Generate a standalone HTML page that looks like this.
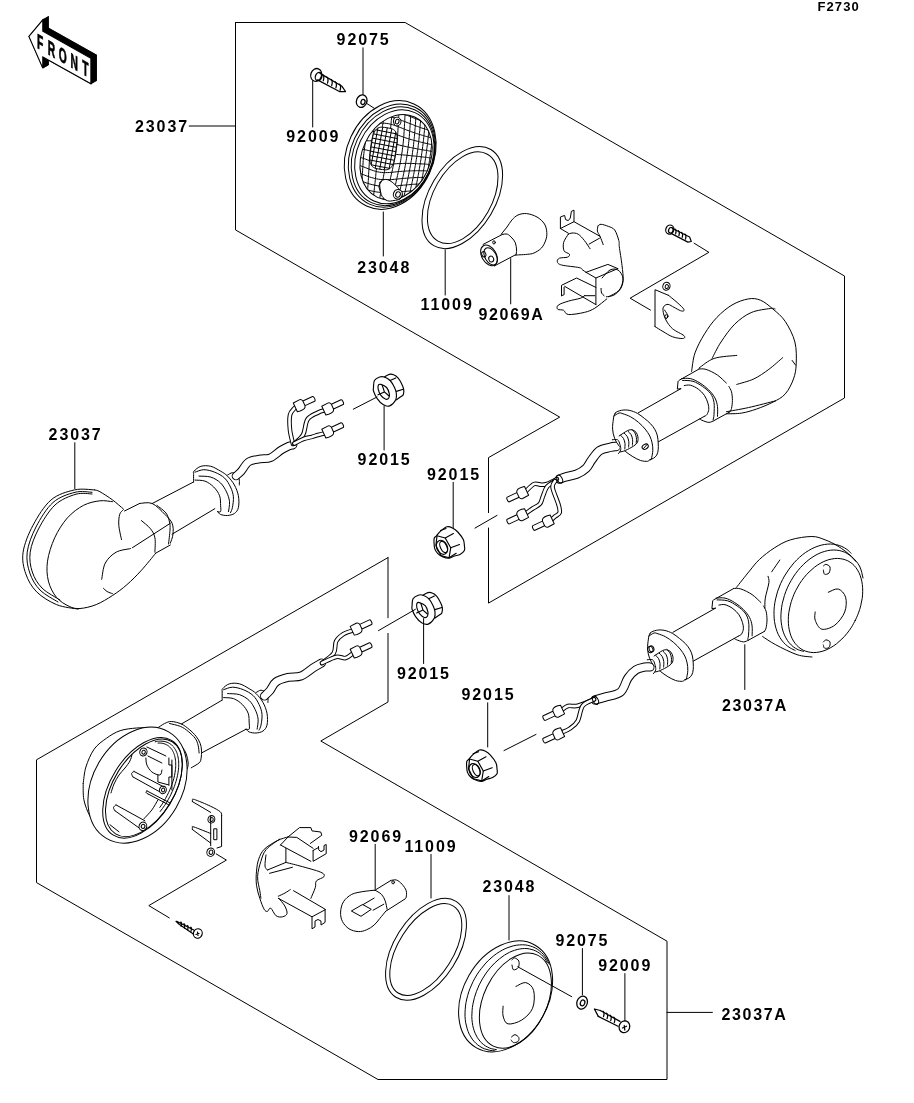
<!DOCTYPE html>
<html><head><meta charset="utf-8">
<style>
html,body{margin:0;padding:0;background:#fff;}
body{width:914px;height:1103px;overflow:hidden;}
svg{display:block;will-change:transform;}
.l{font-family:"Liberation Sans",sans-serif;font-weight:bold;font-size:16px;letter-spacing:1.9px;fill:#000;}
.la{font-family:"Liberation Sans",sans-serif;font-weight:bold;font-size:16px;letter-spacing:1.65px;fill:#000;}
.s{font-family:"Liberation Sans",sans-serif;font-weight:bold;font-size:13px;letter-spacing:1.1px;fill:#000;}
</style></head>
<body>
<svg width="914" height="1103" viewBox="0 0 914 1103">
<g fill="none" stroke="#000" stroke-width="1" stroke-linejoin="round" stroke-linecap="round">
<path d="M235.5,22.5 L405.1,22.5 L844.5,276 L844.5,398 L488.5,603.1 L488.5,528 M488.5,512.6 L488.5,457.6 L559.7,417.1 L235.5,229.9 L235.5,22.5 M388,557.6 L36.5,759.8 L36.5,882.6 L378,1079.5 L667,1079.5 L667,941.2 L320.8,741 L388,702 L388,633.4 M388,617.8 L388,557.6 M189.2,126 L235.5,126 M667,1012.4 L712.4,1012.4"/>
<path d="M363,47.8 V94.4 M312.7,80.6 V127 M366.5,103.3 L374,108.1 M383.3,212 V256 M445.2,249.8 V295 M510.7,258.6 V303.9 M74.8,442.7 V488.7 M384.1,406 V450 M353.3,409.2 L377,397 M453.2,482.4 V527.7 M475,528.1 L497,515.4 M423.6,618.6 V663.5 M378.5,630.6 L415.4,609.3 M487.7,702.8 V747 M504,750.6 L536,734.4 M744.8,644.7 V689.5 M375.2,844.3 V889 M431,854.4 V898 M509,895.6 V940 M582.4,948.5 V994.8 M624.9,973.6 V1021 M694.1,243.2 L708.9,252.3 L630.1,298.2 L650.5,310.1 M169.3,917.9 L148.8,905.6 L226.4,860.1 L216.2,853.9 "/>
</g>
<path d="M28.9,36.4 L42.8,19.8 48.4,16.6 34.5,33.2Z" fill="#000" stroke="#000" stroke-width="0.6" stroke-linejoin="round"/>
<path d="M42.8,19.8 L42.8,31.2 48.4,28 48.4,16.6Z" fill="#000" stroke="#000" stroke-width="0.6" stroke-linejoin="round"/>
<path d="M42.8,31.2 L90.9,58.2 96.5,55 48.4,28Z" fill="#000" stroke="#000" stroke-width="0.6" stroke-linejoin="round"/>
<path d="M90.9,58.2 L90.9,83.8 96.5,80.6 96.5,55Z" fill="#000" stroke="#000" stroke-width="0.6" stroke-linejoin="round"/>
<path d="M90.9,83.8 L42.8,56.9 48.4,53.7 96.5,80.6Z" fill="#000" stroke="#000" stroke-width="0.6" stroke-linejoin="round"/>
<path d="M42.8,56.9 L42.8,68.1 48.4,64.9 48.4,53.7Z" fill="#000" stroke="#000" stroke-width="0.6" stroke-linejoin="round"/>
<path d="M42.8,68.1 L28.9,36.4 34.5,33.2 48.4,64.9Z" fill="#000" stroke="#000" stroke-width="0.6" stroke-linejoin="round"/>
<path d="M34.5,33.2 L48.4,16.6 48.4,28 96.5,55 96.5,80.6 48.4,53.7 48.4,64.9Z" fill="#000" stroke="#000" stroke-width="0.6" stroke-linejoin="round"/>
<path d="M28.9,36.4 L42.8,19.8 42.8,31.2 90.9,58.2 90.9,83.8 42.8,56.9 42.8,68.1Z" fill="#fff" stroke="#000" stroke-width="1.1" stroke-linejoin="miter"/>
<text transform="translate(40.1,49.5) skewY(30) scale(0.5,1)" text-anchor="middle" style="font-family:'Liberation Sans',sans-serif;font-weight:bold;font-size:20.5px" fill="#000" stroke="#000" stroke-width="0.7">F</text>
<text transform="translate(51.5,56.1) skewY(30) scale(0.5,1)" text-anchor="middle" style="font-family:'Liberation Sans',sans-serif;font-weight:bold;font-size:20.5px" fill="#000" stroke="#000" stroke-width="0.7">R</text>
<text transform="translate(62.8,62.6) skewY(30) scale(0.5,1)" text-anchor="middle" style="font-family:'Liberation Sans',sans-serif;font-weight:bold;font-size:20.5px" fill="#000" stroke="#000" stroke-width="0.7">O</text>
<text transform="translate(74.1,69.1) skewY(30) scale(0.5,1)" text-anchor="middle" style="font-family:'Liberation Sans',sans-serif;font-weight:bold;font-size:20.5px" fill="#000" stroke="#000" stroke-width="0.7">N</text>
<text transform="translate(85.4,75.6) skewY(30) scale(0.5,1)" text-anchor="middle" style="font-family:'Liberation Sans',sans-serif;font-weight:bold;font-size:20.5px" fill="#000" stroke="#000" stroke-width="0.7">T</text>
<defs><clipPath id="mc1"><ellipse cx="396.1" cy="157.15" rx="34.1" ry="44.3" transform="rotate(24.9 396.1 157.15)"/></clipPath></defs>
<defs><clipPath id="pit1"><path d="M395.9,150.2 L395.2,155 394.8,157.3 394.5,159 394.2,160.4 393.8,161.7 393.5,162.8 393.1,163.8 392.7,164.8 392.3,165.6 391.9,166.3 391.4,167 390.9,167.6 390.4,168.1 389.9,168.5 389.3,168.9 388.6,169.2 387.9,169.5 387.1,169.6 386.3,169.8 385.3,169.8 384.2,169.7 382.5,169.6 378.6,169 377,168.7 375.9,168.5 375,168.2 374.2,167.8 373.5,167.4 372.9,167 372.3,166.5 371.9,166 371.5,165.4 371.1,164.8 370.8,164.1 370.5,163.3 370.3,162.5 370.1,161.6 370,160.6 369.9,159.5 369.9,158.3 369.9,157 370,155.5 370.2,153.8 370.5,151.6 371.1,146.8 371.8,142 372.2,139.7 372.5,138 372.8,136.6 373.2,135.3 373.5,134.2 373.9,133.2 374.3,132.2 374.7,131.4 375.1,130.7 375.6,130 376.1,129.4 376.6,128.9 377.1,128.5 377.7,128.1 378.4,127.8 379.1,127.5 379.9,127.4 380.7,127.2 381.7,127.2 382.8,127.3 384.5,127.4 388.4,128 390,128.3 391.1,128.5 392,128.8 392.8,129.2 393.5,129.6 394.1,130 394.7,130.5 395.1,131 395.5,131.6 395.9,132.2 396.2,132.9 396.5,133.7 396.7,134.5 396.9,135.4 397,136.4 397.1,137.5 397.1,138.7 397.1,140 397,141.5 396.8,143.2 396.5,145.4Z"/></clipPath></defs>
<g fill="none" stroke="#000" stroke-width="1" stroke-linejoin="round" stroke-linecap="round">
<g stroke-width="1.25">
<ellipse cx="316.2" cy="74.9" rx="5.4" ry="6.5" transform="rotate(20 316.2 74.9)"/>
<ellipse cx="318.6" cy="76.6" rx="3.2" ry="4.2" transform="rotate(20 318.6 76.6)"/>
<path d="M320.1,73.4 L342,86.3 345.5,91.5 339.4,91.5 317.5,79.9"/>
<path d="M322.5,74.5 q2.2,1.5 0.8,6.2"/>
<path d="M326.7,76.9 q2.2,1.5 0.8,6.2"/>
<path d="M330.9,79.3 q2.2,1.5 0.8,6.2"/>
<path d="M335.1,81.7 q2.2,1.5 0.8,6.2"/>
<path d="M339.3,84.1 q2.2,1.5 0.8,6.2"/>
<ellipse cx="361.7" cy="101.1" rx="5.2" ry="6.4" transform="rotate(20 361.7 101.1)"/>
<ellipse cx="363" cy="102" rx="2" ry="2.6" transform="rotate(20 363 102)"/>
</g>
<ellipse cx="390.2" cy="155" rx="43.3" ry="56.3" transform="rotate(24.9 390.2 155)"/>
<ellipse cx="391.9" cy="155.6" rx="41.1" ry="53.5" transform="rotate(24.9 391.9 155.6)"/>
<ellipse cx="393" cy="156.2" rx="39.4" ry="51.2" transform="rotate(24.9 393 156.2)"/>
<ellipse cx="394.4" cy="156.8" rx="37.5" ry="48.7" transform="rotate(24.9 394.4 156.8)"/>
<ellipse cx="396.1" cy="157.2" rx="34.1" ry="44.3" transform="rotate(24.9 396.1 157.2)"/>
<g clip-path="url(#mc1)" stroke-width="1"><path d="M351.5,67.3 L351.2,68.4 351,69.5 350.7,70.6 350.5,71.6 350.2,72.7 350,73.9 349.7,75 349.5,76.1 349.2,77.2 348.9,78.3 348.7,79.5 348.4,80.6 348.2,81.7 347.9,82.9 347.7,84 347.4,85.2 347.1,86.4 346.9,87.5 346.6,88.7 346.4,89.9 346.1,91.1 345.8,92.3 345.6,93.5 345.3,94.7 345.1,95.9 344.8,97.1 344.5,98.4 344.3,99.6 344,100.8 343.8,102.1 343.5,103.4 343.2,104.6 343,105.9 342.7,107.1 342.5,108.4 342.2,109.7 342,111 341.7,112.3 341.5,113.6 341.2,114.9 341,116.2 340.7,117.5 340.5,118.9 340.2,120.2 340,121.5 339.8,122.9 339.5,124.2 339.3,125.5 339.1,126.9 338.8,128.2 338.6,129.6 338.4,131 338.2,132.3 338,133.7 337.7,135.1 337.5,136.4 337.3,137.8 337.1,139.2 336.9,140.6 336.7,141.9 336.5,143.3 336.4,144.7 336.2,146.1 336,147.4 335.8,148.8 335.6,150.2 335.5,151.6 335.3,152.9 335.1,154.3 335,155.7 334.8,157 334.7,158.4 334.5,159.7 334.4,161.1 334.2,162.4 334.1,163.8 334,165.1 333.8,166.5 333.7,167.8 333.6,169.1 333.5,170.5 333.4,171.8 333.2,173.1 333.1,174.4 333,175.7 332.9,177 332.8,178.3 332.7,179.6 332.6,180.9 332.5,182.2 332.4,183.4 332.3,184.7 332.2,185.9 332.1,187.2 332.1,188.4 332,189.7 331.9,190.9 331.8,192.2 331.7,193.4 331.7,194.6 331.6,195.8 331.5,197 331.4,198.2 331.4,199.4 331.3,200.6 331.2,201.8 331.1,202.9 331.1,204.1 331,205.3 330.9,206.4 330.9,207.6 330.8,208.7 330.7,209.9 330.7,211 330.6,212.1 330.6,213.3 330.5,214.4 330.4,215.5 330.4,216.6 330.3,217.7 M356.1,66.9 L355.8,68 355.6,69 355.3,70.1 355.1,71.2 354.8,72.3 354.6,73.4 354.3,74.5 354.1,75.6 353.8,76.7 353.6,77.9 353.3,79 353.1,80.1 352.8,81.3 352.5,82.4 352.3,83.6 352,84.7 351.7,85.9 351.5,87.1 351.2,88.3 351,89.5 350.7,90.7 350.4,91.9 350.1,93.1 349.9,94.3 349.6,95.5 349.3,96.7 349.1,98 348.8,99.2 348.5,100.5 348.3,101.7 348,103 347.7,104.3 347.5,105.6 347.2,106.9 346.9,108.2 346.7,109.5 346.4,110.8 346.1,112.1 345.9,113.4 345.6,114.8 345.4,116.1 345.1,117.4 344.8,118.8 344.6,120.2 344.3,121.5 344.1,122.9 343.8,124.3 343.6,125.6 343.4,127 343.1,128.4 342.9,129.8 342.6,131.2 342.4,132.6 342.2,134 342,135.4 341.8,136.8 341.5,138.3 341.3,139.7 341.1,141.1 340.9,142.5 340.7,143.9 340.5,145.4 340.3,146.8 340.2,148.2 340,149.6 339.8,151 339.6,152.4 339.5,153.9 339.3,155.3 339.1,156.7 339,158.1 338.8,159.5 338.7,160.9 338.6,162.3 338.4,163.6 338.3,165 338.1,166.4 338,167.8 337.9,169.1 337.8,170.5 337.7,171.8 337.5,173.2 337.4,174.5 337.3,175.9 337.2,177.2 337.1,178.5 337,179.8 336.9,181.1 336.8,182.4 336.7,183.7 336.7,185 336.6,186.3 336.5,187.6 336.4,188.8 336.3,190.1 336.2,191.3 336.2,192.6 336.1,193.8 336,195.1 335.9,196.3 335.9,197.5 335.8,198.7 335.7,199.9 335.7,201.1 335.6,202.3 335.5,203.5 335.5,204.7 335.4,205.8 335.3,207 335.3,208.1 335.2,209.3 335.1,210.4 335.1,211.6 335,212.7 335,213.8 334.9,215 334.8,216.1 334.8,217.2 334.7,218.3 334.7,219.4 M360.9,66.5 L360.6,67.6 360.4,68.6 360.1,69.7 359.9,70.8 359.6,71.9 359.4,73 359.1,74.1 358.9,75.2 358.6,76.3 358.4,77.4 358.1,78.5 357.8,79.7 357.6,80.8 357.3,82 357.1,83.1 356.8,84.3 356.5,85.4 356.3,86.6 356,87.8 355.7,89 355.5,90.2 355.2,91.4 354.9,92.6 354.6,93.8 354.4,95.1 354.1,96.3 353.8,97.5 353.5,98.8 353.2,100.1 353,101.3 352.7,102.6 352.4,103.9 352.1,105.2 351.9,106.5 351.6,107.8 351.3,109.1 351,110.5 350.7,111.8 350.5,113.2 350.2,114.5 349.9,115.9 349.6,117.3 349.4,118.7 349.1,120 348.8,121.4 348.6,122.8 348.3,124.3 348.1,125.7 347.8,127.1 347.6,128.5 347.3,130 347.1,131.4 346.8,132.9 346.6,134.3 346.4,135.8 346.1,137.3 345.9,138.7 345.7,140.2 345.5,141.7 345.3,143.1 345.1,144.6 344.9,146.1 344.7,147.5 344.5,149 344.3,150.5 344.1,151.9 343.9,153.4 343.8,154.9 343.6,156.3 343.4,157.8 343.3,159.2 343.1,160.7 343,162.1 342.9,163.5 342.7,165 342.6,166.4 342.5,167.8 342.4,169.2 342.2,170.6 342.1,172 342,173.4 341.9,174.7 341.8,176.1 341.7,177.5 341.6,178.8 341.5,180.1 341.4,181.5 341.3,182.8 341.2,184.1 341.2,185.4 341.1,186.7 341,188 340.9,189.3 340.8,190.6 340.8,191.8 340.7,193.1 340.6,194.3 340.5,195.6 340.5,196.8 340.4,198 340.3,199.3 340.3,200.5 340.2,201.7 340.1,202.9 340.1,204.1 340,205.2 339.9,206.4 339.9,207.6 339.8,208.7 339.7,209.9 339.7,211 339.6,212.2 339.6,213.3 339.5,214.4 339.4,215.6 339.4,216.7 339.3,217.8 339.3,218.9 339.2,220 339.1,221.1 M365.8,66.2 L365.6,67.2 365.3,68.3 365.1,69.4 364.8,70.4 364.6,71.5 364.3,72.6 364.1,73.7 363.8,74.8 363.6,75.9 363.3,77 363.1,78.1 362.8,79.2 362.6,80.4 362.3,81.5 362,82.7 361.8,83.8 361.5,85 361.2,86.2 361,87.3 360.7,88.5 360.4,89.7 360.2,90.9 359.9,92.1 359.6,93.3 359.3,94.6 359,95.8 358.8,97.1 358.5,98.3 358.2,99.6 357.9,100.9 357.6,102.1 357.3,103.4 357,104.8 356.7,106.1 356.5,107.4 356.2,108.7 355.9,110.1 355.6,111.4 355.3,112.8 355,114.2 354.7,115.6 354.4,117 354.1,118.4 353.9,119.8 353.6,121.3 353.3,122.7 353,124.2 352.7,125.6 352.5,127.1 352.2,128.6 351.9,130.1 351.7,131.6 351.4,133.1 351.2,134.6 350.9,136.1 350.7,137.6 350.4,139.2 350.2,140.7 350,142.2 349.8,143.8 349.5,145.3 349.3,146.8 349.1,148.4 348.9,149.9 348.8,151.4 348.6,152.9 348.4,154.5 348.2,156 348.1,157.5 347.9,159 347.8,160.5 347.6,162 347.5,163.5 347.4,165 347.2,166.4 347.1,167.9 347,169.3 346.9,170.8 346.8,172.2 346.7,173.6 346.5,175 346.4,176.4 346.4,177.8 346.3,179.2 346.2,180.6 346.1,181.9 346,183.3 345.9,184.6 345.8,185.9 345.8,187.2 345.7,188.5 345.6,189.8 345.5,191.1 345.5,192.4 345.4,193.7 345.3,194.9 345.3,196.2 345.2,197.4 345.1,198.7 345.1,199.9 345,201.1 344.9,202.3 344.9,203.5 344.8,204.7 344.7,205.9 344.7,207 344.6,208.2 344.5,209.4 344.5,210.5 344.4,211.7 344.3,212.8 344.3,213.9 344.2,215.1 344.2,216.2 344.1,217.3 344,218.4 344,219.5 343.9,220.6 343.8,221.7 343.8,222.8 M370.9,65.9 L370.6,67 370.4,68 370.2,69.1 369.9,70.1 369.7,71.2 369.5,72.3 369.2,73.4 369,74.5 368.7,75.6 368.5,76.7 368.2,77.8 368,78.9 367.7,80 367.5,81.1 367.2,82.3 367,83.4 366.7,84.6 366.4,85.7 366.2,86.9 365.9,88.1 365.6,89.2 365.4,90.4 365.1,91.6 364.8,92.9 364.5,94.1 364.2,95.3 364,96.6 363.7,97.8 363.4,99.1 363.1,100.4 362.8,101.6 362.5,102.9 362.2,104.2 361.9,105.6 361.6,106.9 361.3,108.3 361,109.6 360.7,111 360.4,112.4 360.1,113.8 359.8,115.2 359.5,116.6 359.2,118.1 358.9,119.5 358.6,121 358.3,122.5 358,124 357.7,125.5 357.4,127 357.1,128.6 356.8,130.1 356.5,131.7 356.2,133.2 356,134.8 355.7,136.4 355.4,138 355.2,139.6 354.9,141.2 354.7,142.8 354.5,144.4 354.3,146 354,147.6 353.8,149.3 353.6,150.9 353.4,152.5 353.3,154.1 353.1,155.7 352.9,157.2 352.8,158.8 352.6,160.4 352.5,161.9 352.3,163.5 352.2,165 352.1,166.6 352,168.1 351.8,169.6 351.7,171 351.6,172.5 351.5,174 351.4,175.4 351.3,176.9 351.2,178.3 351.2,179.7 351.1,181.1 351,182.5 350.9,183.8 350.8,185.2 350.8,186.5 350.7,187.8 350.6,189.2 350.5,190.5 350.5,191.8 350.4,193 350.3,194.3 350.3,195.6 350.2,196.8 350.1,198.1 350.1,199.3 350,200.5 349.9,201.7 349.9,203 349.8,204.1 349.7,205.3 349.7,206.5 349.6,207.7 349.5,208.8 349.5,210 349.4,211.2 349.3,212.3 349.3,213.4 349.2,214.6 349.1,215.7 349.1,216.8 349,217.9 348.9,219 348.9,220.1 348.8,221.2 348.7,222.3 348.7,223.3 348.6,224.4 M376.1,65.8 L375.9,66.8 375.6,67.9 375.4,68.9 375.2,70 375,71 374.7,72.1 374.5,73.2 374.3,74.3 374.1,75.3 373.8,76.4 373.6,77.5 373.4,78.6 373.1,79.7 372.9,80.8 372.6,82 372.4,83.1 372.1,84.2 371.9,85.4 371.6,86.5 371.4,87.7 371.1,88.9 370.8,90 370.6,91.2 370.3,92.4 370,93.6 369.7,94.9 369.5,96.1 369.2,97.3 368.9,98.6 368.6,99.9 368.3,101.1 368,102.4 367.7,103.7 367.4,105 367.1,106.4 366.8,107.7 366.5,109.1 366.2,110.5 365.9,111.8 365.6,113.3 365.2,114.7 364.9,116.1 364.6,117.6 364.3,119.1 363.9,120.6 363.6,122.1 363.3,123.6 363,125.2 362.6,126.8 362.3,128.4 362,130 361.7,131.6 361.4,133.3 361.1,134.9 360.8,136.6 360.5,138.3 360.2,140 360,141.7 359.7,143.4 359.5,145.1 359.2,146.8 359,148.6 358.8,150.3 358.6,152 358.4,153.7 358.2,155.4 358,157.1 357.9,158.7 357.7,160.4 357.6,162 357.5,163.6 357.3,165.2 357.2,166.8 357.1,168.4 357,169.9 356.9,171.5 356.8,173 356.7,174.5 356.6,176 356.5,177.4 356.4,178.9 356.4,180.3 356.3,181.7 356.2,183.1 356.1,184.5 356.1,185.8 356,187.2 355.9,188.5 355.8,189.9 355.8,191.2 355.7,192.5 355.6,193.7 355.6,195 355.5,196.3 355.4,197.5 355.4,198.8 355.3,200 355.2,201.2 355.1,202.4 355.1,203.6 355,204.8 354.9,206 354.9,207.1 354.8,208.3 354.7,209.5 354.6,210.6 354.6,211.7 354.5,212.9 354.4,214 354.3,215.1 354.3,216.2 354.2,217.3 354.1,218.4 354,219.5 354,220.6 353.9,221.7 353.8,222.8 353.7,223.8 353.6,224.9 353.6,226 M381.4,65.9 L381.2,66.9 381,67.9 380.8,69 380.6,70 380.4,71 380.2,72.1 380,73.2 379.8,74.2 379.5,75.3 379.3,76.4 379.1,77.5 378.9,78.5 378.7,79.6 378.4,80.7 378.2,81.8 378,83 377.8,84.1 377.5,85.2 377.3,86.3 377,87.5 376.8,88.6 376.6,89.8 376.3,91 376.1,92.2 375.8,93.3 375.5,94.5 375.3,95.8 375,97 374.7,98.2 374.5,99.5 374.2,100.7 373.9,102 373.6,103.3 373.3,104.6 373,105.9 372.7,107.2 372.4,108.6 372.1,109.9 371.8,111.3 371.5,112.7 371.1,114.1 370.8,115.6 370.5,117 370.1,118.5 369.8,120 369.5,121.6 369.1,123.1 368.8,124.7 368.4,126.3 368,128 367.7,129.7 367.3,131.4 367,133.1 366.7,134.9 366.3,136.7 366,138.5 365.7,140.3 365.4,142.2 365.1,144 364.8,145.9 364.6,147.7 364.3,149.6 364.1,151.5 363.9,153.3 363.7,155.1 363.5,157 363.4,158.7 363.2,160.5 363.1,162.2 363,164 362.9,165.6 362.8,167.3 362.7,168.9 362.6,170.5 362.5,172.1 362.4,173.6 362.3,175.2 362.2,176.7 362.2,178.1 362.1,179.6 362,181 361.9,182.5 361.8,183.8 361.8,185.2 361.7,186.6 361.6,187.9 361.5,189.3 361.5,190.6 361.4,191.9 361.3,193.2 361.2,194.4 361.1,195.7 361.1,196.9 361,198.2 360.9,199.4 360.8,200.6 360.7,201.8 360.7,203 360.6,204.2 360.5,205.4 360.4,206.5 360.3,207.7 360.2,208.8 360.1,210 360.1,211.1 360,212.2 359.9,213.4 359.8,214.5 359.7,215.6 359.6,216.7 359.5,217.8 359.4,218.9 359.3,219.9 359.2,221 359.2,222.1 359.1,223.2 359,224.2 358.9,225.3 358.8,226.3 358.7,227.4 M386.8,66.1 L386.6,67.1 386.4,68.2 386.3,69.2 386.1,70.2 385.9,71.3 385.7,72.3 385.5,73.4 385.3,74.4 385.1,75.5 385,76.6 384.8,77.6 384.6,78.7 384.4,79.8 384.2,80.9 384,82 383.8,83.1 383.6,84.2 383.4,85.3 383.1,86.4 382.9,87.6 382.7,88.7 382.5,89.8 382.3,91 382.1,92.2 381.8,93.3 381.6,94.5 381.4,95.7 381.1,96.9 380.9,98.1 380.7,99.3 380.4,100.6 380.2,101.8 379.9,103.1 379.6,104.3 379.4,105.6 379.1,106.9 378.8,108.2 378.5,109.6 378.3,110.9 378,112.3 377.7,113.7 377.3,115.1 377,116.5 376.7,118 376.4,119.4 376,121 375.7,122.5 375.3,124.1 374.9,125.7 374.5,127.4 374.2,129.1 373.8,130.8 373.4,132.7 373,134.5 372.6,136.4 372.2,138.4 371.8,140.4 371.4,142.5 371.1,144.6 370.8,146.7 370.5,148.8 370.2,150.9 370,153 369.8,155.1 369.7,157.1 369.5,159 369.4,160.9 369.3,162.8 369.2,164.6 369.1,166.3 369,168 368.9,169.7 368.8,171.3 368.7,172.9 368.6,174.5 368.5,176 368.5,177.5 368.4,178.9 368.3,180.4 368.2,181.8 368.1,183.2 368,184.6 367.9,185.9 367.8,187.3 367.7,188.6 367.6,189.9 367.5,191.2 367.4,192.5 367.3,193.7 367.2,195 367.1,196.2 367,197.5 366.9,198.7 366.8,199.9 366.7,201.1 366.6,202.3 366.5,203.4 366.4,204.6 366.3,205.8 366.2,206.9 366.1,208.1 365.9,209.2 365.8,210.3 365.7,211.5 365.6,212.6 365.5,213.7 365.4,214.8 365.3,215.9 365.2,217 365.1,218.1 365,219.1 364.8,220.2 364.7,221.3 364.6,222.3 364.5,223.4 364.4,224.4 364.3,225.5 364.2,226.5 364.1,227.6 364,228.6 M392.2,66.6 L392.1,67.6 391.9,68.7 391.8,69.7 391.6,70.7 391.5,71.8 391.3,72.8 391.1,73.9 391,74.9 390.8,76 390.6,77 390.5,78.1 390.3,79.2 390.1,80.3 390,81.3 389.8,82.4 389.6,83.5 389.5,84.6 389.3,85.7 389.1,86.9 388.9,88 388.8,89.1 388.6,90.3 388.4,91.4 388.2,92.6 388,93.7 387.8,94.9 387.7,96.1 387.5,97.2 387.3,98.4 387.1,99.6 386.9,100.9 386.7,102.1 386.5,103.3 386.3,104.6 386.1,105.8 385.8,107.1 385.6,108.4 385.4,109.7 385.2,111 384.9,112.4 384.7,113.7 384.5,115.1 384.2,116.5 384,117.9 383.7,119.3 383.4,120.8 383.2,122.3 382.9,123.8 382.6,125.3 382.3,126.9 381.9,128.6 381.6,130.3 381.2,132 380.8,133.8 380.4,135.8 379.9,137.8 379.4,140 378.9,142.4 378.4,145 377.9,147.7 377.6,150.5 377.4,153.1 377.2,155.6 377.1,157.8 377,159.9 376.9,161.9 376.7,163.7 376.6,165.5 376.5,167.2 376.4,168.9 376.2,170.5 376.1,172.1 375.9,173.6 375.8,175.1 375.7,176.6 375.5,178.1 375.4,179.5 375.2,180.9 375.1,182.3 374.9,183.6 374.8,185 374.6,186.3 374.5,187.6 374.3,188.9 374.2,190.2 374.1,191.5 373.9,192.7 373.8,194 373.6,195.2 373.5,196.4 373.3,197.7 373.2,198.9 373,200.1 372.9,201.2 372.8,202.4 372.6,203.6 372.5,204.7 372.3,205.9 372.2,207 372,208.2 371.9,209.3 371.8,210.4 371.6,211.5 371.5,212.6 371.4,213.7 371.2,214.8 371.1,215.9 370.9,217 370.8,218.1 370.7,219.2 370.5,220.2 370.4,221.3 370.3,222.3 370.1,223.4 370,224.4 369.9,225.5 369.7,226.5 369.6,227.6 369.5,228.6 369.3,229.6 M397.7,67.4 L397.5,68.4 397.4,69.4 397.3,70.5 397.1,71.5 397,72.6 396.9,73.6 396.7,74.7 396.6,75.7 396.5,76.8 396.3,77.8 396.2,78.9 396.1,80 395.9,81.1 395.8,82.2 395.6,83.3 395.5,84.4 395.4,85.5 395.2,86.6 395.1,87.7 395,88.8 394.8,90 394.7,91.1 394.5,92.3 394.4,93.4 394.2,94.6 394.1,95.8 394,96.9 393.8,98.1 393.7,99.3 393.5,100.6 393.4,101.8 393.2,103 393.1,104.3 392.9,105.5 392.8,106.8 392.7,108.1 392.5,109.4 392.4,110.7 392.2,112 392.1,113.4 391.9,114.7 391.8,116.1 391.6,117.5 391.5,118.9 391.3,120.4 391.2,121.9 391.1,123.4 390.9,124.9 390.8,126.5 390.6,128.1 390.5,129.8 390.4,131.5 390.3,133.3 390.1,135.1 390,137.1 389.9,139.2 389.8,141.4 389.6,143.9 389.4,146.5 389.1,149.3 388.6,152 388.1,154.6 387.6,157 387.1,159.2 386.6,161.2 386.2,163.2 385.8,165 385.4,166.7 385.1,168.4 384.7,170.1 384.4,171.7 384.1,173.2 383.8,174.7 383.6,176.2 383.3,177.7 383,179.1 382.8,180.5 382.5,181.9 382.3,183.3 382.1,184.6 381.8,186 381.6,187.3 381.4,188.6 381.2,189.9 380.9,191.2 380.7,192.4 380.5,193.7 380.3,194.9 380.1,196.1 379.9,197.4 379.7,198.6 379.5,199.8 379.3,200.9 379.2,202.1 379,203.3 378.8,204.4 378.6,205.6 378.4,206.7 378.2,207.9 378.1,209 377.9,210.1 377.7,211.3 377.5,212.4 377.4,213.5 377.2,214.6 377,215.7 376.9,216.7 376.7,217.8 376.5,218.9 376.4,220 376.2,221 376,222.1 375.9,223.1 375.7,224.2 375.5,225.2 375.4,226.3 375.2,227.3 375.1,228.3 374.9,229.4 374.8,230.4 M403,68.4 L402.9,69.4 402.8,70.5 402.7,71.5 402.6,72.6 402.5,73.6 402.4,74.7 402.3,75.7 402.2,76.8 402,77.9 401.9,78.9 401.8,80 401.7,81.1 401.6,82.2 401.5,83.3 401.4,84.4 401.3,85.5 401.2,86.7 401.1,87.8 400.9,88.9 400.8,90.1 400.7,91.2 400.6,92.4 400.5,93.6 400.4,94.7 400.3,95.9 400.2,97.1 400.1,98.3 400,99.5 399.9,100.8 399.8,102 399.7,103.3 399.6,104.5 399.5,105.8 399.4,107.1 399.3,108.4 399.2,109.7 399.1,111.1 399,112.4 398.9,113.8 398.8,115.2 398.7,116.6 398.6,118.1 398.5,119.5 398.5,121 398.4,122.5 398.3,124.1 398.2,125.7 398.1,127.3 398,129 397.9,130.7 397.8,132.4 397.7,134.2 397.6,136.1 397.5,138 397.3,139.9 397.2,141.9 397,144 396.8,146.1 396.5,148.2 396.2,150.3 395.9,152.4 395.6,154.5 395.2,156.6 394.8,158.6 394.4,160.6 394,162.5 393.6,164.3 393.2,166.2 392.8,167.9 392.5,169.6 392.1,171.3 391.7,172.9 391.3,174.5 391,176 390.6,177.6 390.3,179 390,180.5 389.7,181.9 389.3,183.3 389,184.7 388.7,186.1 388.5,187.4 388.2,188.8 387.9,190.1 387.6,191.4 387.4,192.7 387.1,193.9 386.8,195.2 386.6,196.4 386.3,197.7 386.1,198.9 385.9,200.1 385.6,201.3 385.4,202.5 385.2,203.7 384.9,204.8 384.7,206 384.5,207.2 384.3,208.3 384.1,209.4 383.9,210.6 383.6,211.7 383.4,212.8 383.2,213.9 383,215 382.8,216.1 382.6,217.2 382.4,218.3 382.2,219.4 382,220.4 381.9,221.5 381.7,222.6 381.5,223.6 381.3,224.7 381.1,225.7 380.9,226.8 380.7,227.8 380.6,228.8 380.4,229.9 380.2,230.9 M408.3,69.6 L408.2,70.7 408.1,71.7 408,72.8 407.9,73.8 407.8,74.9 407.8,76 407.7,77.1 407.6,78.1 407.5,79.2 407.4,80.3 407.3,81.4 407.2,82.5 407.1,83.6 407,84.8 406.9,85.9 406.9,87 406.8,88.2 406.7,89.3 406.6,90.5 406.5,91.6 406.4,92.8 406.3,94 406.3,95.2 406.2,96.4 406.1,97.6 406,98.8 405.9,100.1 405.9,101.3 405.8,102.6 405.7,103.8 405.6,105.1 405.5,106.4 405.5,107.7 405.4,109.1 405.3,110.4 405.2,111.8 405.2,113.2 405.1,114.5 405,116 404.9,117.4 404.8,118.9 404.8,120.3 404.7,121.8 404.6,123.4 404.5,124.9 404.4,126.5 404.3,128.1 404.2,129.7 404.1,131.4 404,133 403.9,134.8 403.8,136.5 403.6,138.3 403.5,140 403.3,141.9 403.1,143.7 402.9,145.5 402.7,147.4 402.4,149.3 402.2,151.1 401.9,153 401.6,154.8 401.3,156.7 401,158.5 400.7,160.3 400.3,162.1 400,163.9 399.7,165.6 399.3,167.3 399,169 398.6,170.7 398.2,172.3 397.9,173.9 397.5,175.4 397.2,177 396.9,178.5 396.5,180 396.2,181.4 395.9,182.9 395.5,184.3 395.2,185.7 394.9,187.1 394.6,188.4 394.3,189.8 394,191.1 393.7,192.4 393.4,193.7 393.1,195 392.8,196.3 392.5,197.5 392.3,198.8 392,200 391.7,201.2 391.5,202.5 391.2,203.7 390.9,204.8 390.7,206 390.4,207.2 390.2,208.4 390,209.5 389.7,210.7 389.5,211.8 389.2,212.9 389,214 388.8,215.2 388.6,216.3 388.3,217.4 388.1,218.5 387.9,219.5 387.7,220.6 387.5,221.7 387.2,222.8 387,223.8 386.8,224.9 386.6,226 386.4,227 386.2,228 386,229.1 385.8,230.1 385.6,231.1 M413.4,71 L413.4,72.1 413.3,73.2 413.2,74.2 413.1,75.3 413,76.4 413,77.5 412.9,78.6 412.8,79.7 412.7,80.8 412.7,81.9 412.6,83 412.5,84.1 412.4,85.3 412.4,86.4 412.3,87.5 412.2,88.7 412.1,89.9 412.1,91 412,92.2 411.9,93.4 411.9,94.6 411.8,95.8 411.7,97 411.6,98.2 411.6,99.5 411.5,100.7 411.4,102 411.4,103.3 411.3,104.5 411.2,105.8 411.2,107.1 411.1,108.5 411,109.8 410.9,111.2 410.9,112.5 410.8,113.9 410.7,115.3 410.6,116.7 410.6,118.1 410.5,119.6 410.4,121 410.3,122.5 410.2,124 410.1,125.5 410,127.1 409.9,128.6 409.8,130.2 409.7,131.8 409.5,133.4 409.4,135 409.3,136.6 409.1,138.3 409,139.9 408.8,141.6 408.6,143.3 408.4,145 408.2,146.7 408,148.4 407.8,150.2 407.5,151.9 407.3,153.6 407,155.3 406.8,157 406.5,158.7 406.2,160.4 405.9,162.1 405.6,163.7 405.3,165.4 405,167 404.7,168.6 404.4,170.2 404,171.8 403.7,173.4 403.4,174.9 403.1,176.4 402.7,177.9 402.4,179.4 402.1,180.9 401.8,182.3 401.4,183.7 401.1,185.2 400.8,186.5 400.5,187.9 400.2,189.3 399.9,190.6 399.6,192 399.3,193.3 399,194.6 398.7,195.9 398.4,197.1 398.1,198.4 397.8,199.7 397.5,200.9 397.3,202.1 397,203.4 396.7,204.6 396.4,205.8 396.2,207 395.9,208.1 395.6,209.3 395.4,210.5 395.1,211.6 394.9,212.8 394.6,213.9 394.4,215 394.1,216.2 393.9,217.3 393.6,218.4 393.4,219.5 393.2,220.6 392.9,221.7 392.7,222.7 392.5,223.8 392.3,224.9 392,226 391.8,227 391.6,228.1 391.4,229.1 391.1,230.2 390.9,231.2 M418.4,72.6 L418.3,73.7 418.3,74.7 418.2,75.8 418.1,76.9 418.1,78 418,79.1 417.9,80.2 417.9,81.3 417.8,82.4 417.7,83.6 417.7,84.7 417.6,85.8 417.5,87 417.5,88.2 417.4,89.3 417.3,90.5 417.3,91.7 417.2,92.9 417.1,94 417.1,95.3 417,96.5 416.9,97.7 416.9,98.9 416.8,100.2 416.7,101.4 416.7,102.7 416.6,104 416.5,105.2 416.5,106.5 416.4,107.8 416.3,109.2 416.2,110.5 416.2,111.8 416.1,113.2 416,114.5 415.9,115.9 415.8,117.3 415.8,118.7 415.7,120.1 415.6,121.6 415.5,123 415.4,124.5 415.3,126 415.2,127.4 415,128.9 414.9,130.4 414.8,132 414.7,133.5 414.5,135.1 414.4,136.6 414.2,138.2 414.1,139.8 413.9,141.3 413.7,142.9 413.6,144.5 413.4,146.1 413.2,147.7 413,149.4 412.7,151 412.5,152.6 412.3,154.2 412.1,155.8 411.8,157.4 411.6,159 411.3,160.6 411,162.2 410.8,163.8 410.5,165.3 410.2,166.9 409.9,168.4 409.6,170 409.3,171.5 409,173 408.7,174.5 408.4,176 408.1,177.5 407.8,178.9 407.5,180.4 407.2,181.8 406.9,183.2 406.6,184.6 406.3,186 406,187.4 405.7,188.7 405.4,190.1 405.1,191.4 404.8,192.8 404.5,194.1 404.2,195.4 403.9,196.6 403.6,197.9 403.3,199.2 403,200.4 402.8,201.7 402.5,202.9 402.2,204.1 401.9,205.4 401.6,206.6 401.4,207.8 401.1,208.9 400.8,210.1 400.6,211.3 400.3,212.4 400,213.6 399.8,214.7 399.5,215.9 399.3,217 399,218.1 398.8,219.2 398.5,220.3 398.3,221.4 398,222.5 397.8,223.6 397.5,224.7 397.3,225.8 397.1,226.9 396.8,227.9 396.6,229 396.4,230 396.1,231.1 M423.2,74.2 L423.2,75.3 423.1,76.4 423,77.5 423,78.6 422.9,79.7 422.8,80.8 422.8,81.9 422.7,83.1 422.7,84.2 422.6,85.3 422.5,86.5 422.5,87.6 422.4,88.8 422.3,90 422.3,91.1 422.2,92.3 422.1,93.5 422.1,94.7 422,95.9 421.9,97.1 421.9,98.3 421.8,99.6 421.7,100.8 421.7,102.1 421.6,103.3 421.5,104.6 421.5,105.9 421.4,107.2 421.3,108.5 421.2,109.8 421.2,111.1 421.1,112.4 421,113.7 420.9,115.1 420.8,116.4 420.7,117.8 420.6,119.2 420.6,120.6 420.5,122 420.3,123.4 420.2,124.8 420.1,126.2 420,127.7 419.9,129.1 419.8,130.6 419.6,132 419.5,133.5 419.4,135 419.2,136.5 419.1,138 418.9,139.5 418.8,141 418.6,142.5 418.4,144.1 418.2,145.6 418.1,147.1 417.9,148.6 417.7,150.2 417.5,151.7 417.2,153.2 417,154.8 416.8,156.3 416.6,157.8 416.3,159.4 416.1,160.9 415.8,162.4 415.6,163.9 415.3,165.4 415.1,166.9 414.8,168.4 414.5,169.9 414.3,171.4 414,172.8 413.7,174.3 413.4,175.7 413.1,177.2 412.9,178.6 412.6,180 412.3,181.4 412,182.8 411.7,184.2 411.4,185.6 411.1,186.9 410.8,188.3 410.5,189.6 410.3,190.9 410,192.2 409.7,193.6 409.4,194.9 409.1,196.1 408.8,197.4 408.5,198.7 408.2,199.9 408,201.2 407.7,202.4 407.4,203.7 407.1,204.9 406.8,206.1 406.6,207.3 406.3,208.5 406,209.7 405.8,210.8 405.5,212 405.2,213.2 405,214.3 404.7,215.5 404.4,216.6 404.2,217.8 403.9,218.9 403.7,220 403.4,221.1 403.2,222.2 402.9,223.3 402.7,224.4 402.4,225.5 402.2,226.6 401.9,227.6 401.7,228.7 401.4,229.8 401.2,230.8 M427.9,75.9 L427.8,77 427.7,78.1 427.7,79.2 427.6,80.3 427.6,81.4 427.5,82.6 427.4,83.7 427.4,84.8 427.3,86 427.3,87.1 427.2,88.3 427.1,89.4 427.1,90.6 427,91.8 426.9,92.9 426.9,94.1 426.8,95.3 426.7,96.5 426.7,97.7 426.6,99 426.5,100.2 426.5,101.4 426.4,102.7 426.3,103.9 426.2,105.2 426.2,106.4 426.1,107.7 426,109 425.9,110.3 425.8,111.6 425.8,112.9 425.7,114.2 425.6,115.5 425.5,116.9 425.4,118.2 425.3,119.5 425.2,120.9 425.1,122.3 425,123.6 424.9,125 424.8,126.4 424.6,127.8 424.5,129.2 424.4,130.6 424.3,132 424.1,133.5 424,134.9 423.9,136.3 423.7,137.8 423.6,139.2 423.4,140.7 423.2,142.1 423.1,143.6 422.9,145.1 422.7,146.5 422.5,148 422.3,149.5 422.1,150.9 421.9,152.4 421.7,153.9 421.5,155.3 421.3,156.8 421.1,158.3 420.9,159.7 420.6,161.2 420.4,162.7 420.2,164.1 419.9,165.6 419.7,167 419.4,168.5 419.2,169.9 418.9,171.3 418.7,172.7 418.4,174.2 418.2,175.6 417.9,177 417.6,178.3 417.4,179.7 417.1,181.1 416.8,182.5 416.5,183.8 416.3,185.2 416,186.5 415.7,187.9 415.4,189.2 415.1,190.5 414.9,191.8 414.6,193.1 414.3,194.4 414,195.7 413.8,196.9 413.5,198.2 413.2,199.5 412.9,200.7 412.6,201.9 412.4,203.2 412.1,204.4 411.8,205.6 411.5,206.8 411.3,208 411,209.2 410.7,210.4 410.5,211.6 410.2,212.7 409.9,213.9 409.7,215 409.4,216.2 409.2,217.3 408.9,218.5 408.6,219.6 408.4,220.7 408.1,221.8 407.9,222.9 407.6,224 407.4,225.1 407.1,226.2 406.9,227.3 406.6,228.4 406.4,229.4 406.1,230.5 M432.3,77.6 L432.3,78.7 432.2,79.8 432.2,80.9 432.1,82 432,83.2 432,84.3 431.9,85.4 431.9,86.6 431.8,87.7 431.7,88.9 431.7,90 431.6,91.2 431.5,92.3 431.5,93.5 431.4,94.7 431.3,95.9 431.3,97.1 431.2,98.3 431.1,99.5 431.1,100.7 431,101.9 430.9,103.2 430.8,104.4 430.8,105.7 430.7,106.9 430.6,108.2 430.5,109.4 430.4,110.7 430.3,112 430.3,113.3 430.2,114.6 430.1,115.9 430,117.2 429.9,118.5 429.8,119.8 429.7,121.1 429.6,122.5 429.5,123.8 429.3,125.2 429.2,126.5 429.1,127.9 429,129.2 428.9,130.6 428.7,132 428.6,133.4 428.4,134.7 428.3,136.1 428.2,137.5 428,138.9 427.9,140.3 427.7,141.7 427.5,143.1 427.4,144.6 427.2,146 427,147.4 426.8,148.8 426.7,150.2 426.5,151.6 426.3,153.1 426.1,154.5 425.9,155.9 425.7,157.3 425.5,158.7 425.2,160.2 425,161.6 424.8,163 424.6,164.4 424.4,165.8 424.1,167.2 423.9,168.6 423.6,170 423.4,171.4 423.2,172.7 422.9,174.1 422.7,175.5 422.4,176.8 422.2,178.2 421.9,179.6 421.6,180.9 421.4,182.2 421.1,183.6 420.9,184.9 420.6,186.2 420.3,187.5 420.1,188.8 419.8,190.1 419.5,191.4 419.3,192.7 419,194 418.7,195.3 418.5,196.5 418.2,197.8 417.9,199 417.7,200.3 417.4,201.5 417.1,202.7 416.9,203.9 416.6,205.1 416.3,206.3 416,207.5 415.8,208.7 415.5,209.9 415.3,211.1 415,212.3 414.7,213.4 414.5,214.6 414.2,215.7 413.9,216.9 413.7,218 413.4,219.1 413.2,220.3 412.9,221.4 412.7,222.5 412.4,223.6 412.2,224.7 411.9,225.8 411.7,226.9 411.4,228 411.2,229 410.9,230.1 M436.7,79.3 L436.6,80.4 436.6,81.5 436.5,82.6 436.4,83.7 436.4,84.9 436.3,86 436.3,87.1 436.2,88.3 436.1,89.4 436.1,90.6 436,91.7 435.9,92.9 435.9,94.1 435.8,95.2 435.7,96.4 435.6,97.6 435.6,98.8 435.5,100 435.4,101.2 435.3,102.4 435.3,103.6 435.2,104.8 435.1,106.1 435,107.3 434.9,108.6 434.9,109.8 434.8,111.1 434.7,112.3 434.6,113.6 434.5,114.8 434.4,116.1 434.3,117.4 434.2,118.7 434.1,120 434,121.3 433.9,122.6 433.8,123.9 433.6,125.2 433.5,126.5 433.4,127.9 433.3,129.2 433.2,130.5 433,131.9 432.9,133.2 432.8,134.6 432.6,135.9 432.5,137.3 432.3,138.6 432.2,140 432,141.3 431.9,142.7 431.7,144.1 431.5,145.4 431.4,146.8 431.2,148.2 431,149.6 430.8,150.9 430.6,152.3 430.5,153.7 430.3,155.1 430.1,156.4 429.9,157.8 429.7,159.2 429.5,160.6 429.3,161.9 429,163.3 428.8,164.7 428.6,166 428.4,167.4 428.2,168.8 427.9,170.1 427.7,171.5 427.5,172.8 427.2,174.1 427,175.5 426.8,176.8 426.5,178.1 426.3,179.5 426,180.8 425.8,182.1 425.5,183.4 425.3,184.7 425,186 424.8,187.3 424.5,188.6 424.3,189.9 424,191.1 423.8,192.4 423.5,193.6 423.2,194.9 423,196.2 422.7,197.4 422.5,198.6 422.2,199.9 421.9,201.1 421.7,202.3 421.4,203.5 421.2,204.7 420.9,205.9 420.6,207.1 420.4,208.3 420.1,209.5 419.9,210.6 419.6,211.8 419.3,213 419.1,214.1 418.8,215.3 418.6,216.4 418.3,217.5 418.1,218.7 417.8,219.8 417.5,220.9 417.3,222 417,223.1 416.8,224.3 416.5,225.4 416.3,226.4 416,227.5 415.8,228.6 415.5,229.7 M440.9,80.9 L440.8,82 440.8,83.2 440.7,84.3 440.6,85.4 440.6,86.5 440.5,87.7 440.4,88.8 440.4,89.9 440.3,91.1 440.2,92.2 440.2,93.4 440.1,94.5 440,95.7 440,96.9 439.9,98.1 439.8,99.2 439.7,100.4 439.7,101.6 439.6,102.8 439.5,104 439.4,105.2 439.3,106.4 439.2,107.7 439.1,108.9 439.1,110.1 439,111.3 438.9,112.6 438.8,113.8 438.7,115.1 438.6,116.3 438.5,117.6 438.4,118.8 438.3,120.1 438.2,121.4 438.1,122.7 437.9,123.9 437.8,125.2 437.7,126.5 437.6,127.8 437.5,129.1 437.3,130.4 437.2,131.7 437.1,133 436.9,134.3 436.8,135.7 436.7,137 436.5,138.3 436.4,139.6 436.2,141 436.1,142.3 435.9,143.6 435.7,144.9 435.6,146.3 435.4,147.6 435.2,149 435.1,150.3 434.9,151.6 434.7,153 434.5,154.3 434.3,155.6 434.1,157 434,158.3 433.8,159.7 433.6,161 433.4,162.3 433.2,163.7 432.9,165 432.7,166.3 432.5,167.6 432.3,169 432.1,170.3 431.9,171.6 431.6,172.9 431.4,174.2 431.2,175.5 431,176.8 430.7,178.1 430.5,179.4 430.3,180.7 430,182 429.8,183.3 429.5,184.6 429.3,185.8 429.1,187.1 428.8,188.4 428.6,189.6 428.3,190.9 428.1,192.1 427.8,193.4 427.6,194.6 427.3,195.8 427.1,197.1 426.8,198.3 426.6,199.5 426.3,200.7 426.1,201.9 425.8,203.1 425.6,204.3 425.3,205.5 425.1,206.7 424.8,207.9 424.6,209 424.3,210.2 424,211.4 423.8,212.5 423.5,213.7 423.3,214.8 423,216 422.8,217.1 422.5,218.2 422.3,219.4 422,220.5 421.8,221.6 421.5,222.7 421.3,223.8 421,224.9 420.8,226 420.5,227.1 420.3,228.2 420,229.3 M328.7,79.3 L329.7,79.2 330.7,79.1 331.7,79.1 332.7,79 333.7,78.9 334.7,78.8 335.8,78.7 336.8,78.6 337.9,78.5 338.9,78.4 340,78.3 341,78.2 342.1,78.1 343.2,78 344.3,77.9 345.4,77.8 346.5,77.7 347.6,77.6 348.8,77.5 349.9,77.3 351.1,77.2 352.2,77.1 353.4,77 354.6,76.9 355.8,76.8 357,76.7 358.2,76.6 359.4,76.5 360.6,76.3 361.9,76.2 363.1,76.1 364.4,76.1 365.7,76 367,75.9 368.3,75.8 369.6,75.7 370.9,75.7 372.2,75.6 373.6,75.6 374.9,75.5 376.3,75.5 377.7,75.5 379,75.5 380.4,75.5 381.8,75.6 383.2,75.6 384.6,75.7 386,75.8 387.5,75.9 388.9,76 390.3,76.1 391.7,76.3 393.1,76.5 394.6,76.7 396,76.9 397.4,77.1 398.8,77.4 400.2,77.7 401.6,78 402.9,78.3 404.3,78.6 405.7,79 407,79.3 408.4,79.7 409.7,80.1 411,80.5 412.3,80.9 413.6,81.3 414.9,81.7 416.1,82.1 417.4,82.5 418.6,83 419.8,83.4 421,83.8 422.2,84.3 423.4,84.7 424.6,85.2 425.8,85.6 426.9,86 428.1,86.5 429.2,86.9 430.3,87.4 431.4,87.8 432.5,88.2 433.6,88.7 434.7,89.1 435.8,89.5 436.8,89.9 437.9,90.3 438.9,90.8 440,91.2 441,91.6 442,92 443,92.4 444,92.8 445,93.2 446,93.5 447,93.9 448,94.3 448.9,94.7 449.9,95.1 450.9,95.4 451.8,95.8 452.8,96.2 453.7,96.5 454.7,96.9 M327.6,84.6 L328.5,84.6 329.5,84.5 330.5,84.4 331.5,84.4 332.6,84.3 333.6,84.2 334.6,84.1 335.6,84 336.7,83.9 337.7,83.8 338.8,83.7 339.9,83.7 340.9,83.6 342,83.5 343.1,83.4 344.2,83.2 345.3,83.1 346.4,83 347.5,82.9 348.7,82.8 349.8,82.7 351,82.6 352.1,82.5 353.3,82.4 354.5,82.2 355.7,82.1 356.9,82 358.1,81.9 359.4,81.8 360.6,81.7 361.9,81.6 363.2,81.5 364.4,81.3 365.7,81.3 367,81.2 368.4,81.1 369.7,81 371.1,80.9 372.4,80.9 373.8,80.8 375.2,80.8 376.6,80.7 378,80.7 379.4,80.7 380.8,80.8 382.2,80.8 383.7,80.9 385.1,80.9 386.6,81 388,81.2 389.5,81.3 390.9,81.5 392.4,81.6 393.9,81.8 395.3,82.1 396.7,82.3 398.2,82.6 399.6,82.9 401,83.2 402.4,83.5 403.8,83.9 405.2,84.2 406.6,84.6 407.9,85 409.3,85.4 410.6,85.8 411.9,86.3 413.2,86.7 414.5,87.1 415.8,87.6 417,88 418.3,88.5 419.5,88.9 420.7,89.4 421.9,89.8 423.1,90.3 424.3,90.7 425.5,91.2 426.6,91.6 427.8,92.1 428.9,92.5 430,92.9 431.1,93.4 432.2,93.8 433.3,94.2 434.4,94.7 435.4,95.1 436.5,95.5 437.5,95.9 438.6,96.3 439.6,96.7 440.6,97.1 441.7,97.5 442.7,97.9 443.7,98.3 444.7,98.7 445.6,99.1 446.6,99.5 447.6,99.8 448.6,100.2 449.5,100.6 450.5,100.9 451.4,101.3 452.4,101.6 453.3,102 454.3,102.3 M326.5,90.1 L327.4,90 328.4,89.9 329.4,89.9 330.4,89.8 331.4,89.8 332.4,89.7 333.5,89.6 334.5,89.5 335.5,89.5 336.6,89.4 337.6,89.3 338.7,89.2 339.7,89.1 340.8,89 341.9,88.9 343,88.8 344.1,88.7 345.2,88.6 346.3,88.5 347.4,88.4 348.6,88.3 349.7,88.2 350.9,88.1 352.1,88 353.2,87.8 354.4,87.7 355.6,87.6 356.9,87.5 358.1,87.4 359.3,87.3 360.6,87.1 361.9,87 363.2,86.9 364.5,86.8 365.8,86.7 367.1,86.6 368.5,86.5 369.8,86.4 371.2,86.3 372.6,86.3 374,86.2 375.4,86.2 376.9,86.1 378.3,86.1 379.8,86.1 381.2,86.1 382.7,86.2 384.2,86.2 385.7,86.3 387.2,86.4 388.7,86.6 390.1,86.7 391.6,86.9 393.1,87.2 394.6,87.4 396.1,87.7 397.6,87.9 399,88.3 400.5,88.6 401.9,88.9 403.4,89.3 404.8,89.7 406.2,90.1 407.5,90.5 408.9,90.9 410.2,91.4 411.6,91.8 412.9,92.3 414.2,92.7 415.5,93.2 416.7,93.7 418,94.1 419.2,94.6 420.4,95 421.6,95.5 422.8,96 424,96.4 425.2,96.9 426.3,97.3 427.4,97.8 428.6,98.2 429.7,98.7 430.8,99.1 431.9,99.6 433,100 434,100.4 435.1,100.8 436.1,101.2 437.2,101.6 438.2,102 439.2,102.4 440.3,102.8 441.3,103.2 442.3,103.6 443.3,104 444.3,104.4 445.2,104.7 446.2,105.1 447.2,105.4 448.2,105.8 449.1,106.1 450.1,106.5 451,106.8 452,107.2 452.9,107.5 453.8,107.8 M325.4,95.6 L326.3,95.5 327.3,95.5 328.3,95.4 329.3,95.4 330.3,95.3 331.3,95.3 332.3,95.2 333.3,95.1 334.4,95.1 335.4,95 336.4,94.9 337.5,94.9 338.5,94.8 339.6,94.7 340.7,94.6 341.8,94.5 342.8,94.4 343.9,94.4 345.1,94.3 346.2,94.2 347.3,94.1 348.4,93.9 349.6,93.8 350.8,93.7 351.9,93.6 353.1,93.5 354.3,93.4 355.6,93.3 356.8,93.1 358,93 359.3,92.9 360.6,92.8 361.9,92.7 363.2,92.5 364.5,92.4 365.8,92.3 367.2,92.2 368.5,92.1 369.9,92 371.3,91.9 372.8,91.8 374.2,91.8 375.7,91.7 377.1,91.7 378.6,91.6 380.1,91.7 381.6,91.7 383.2,91.7 384.7,91.8 386.2,91.9 387.8,92 389.3,92.2 390.9,92.4 392.4,92.6 393.9,92.9 395.5,93.1 397,93.5 398.5,93.8 400,94.1 401.4,94.5 402.9,94.9 404.3,95.3 405.7,95.8 407.1,96.2 408.5,96.7 409.9,97.1 411.2,97.6 412.6,98.1 413.9,98.5 415.1,99 416.4,99.5 417.7,100 418.9,100.5 420.1,100.9 421.3,101.4 422.5,101.9 423.7,102.3 424.8,102.8 426,103.3 427.1,103.7 428.2,104.1 429.3,104.6 430.4,105 431.5,105.4 432.6,105.9 433.7,106.3 434.7,106.7 435.8,107.1 436.8,107.5 437.8,107.9 438.8,108.3 439.9,108.6 440.9,109 441.9,109.4 442.9,109.7 443.8,110.1 444.8,110.5 445.8,110.8 446.8,111.2 447.7,111.5 448.7,111.8 449.6,112.2 450.6,112.5 451.5,112.8 452.4,113.1 453.4,113.4 M324.3,101.1 L325.2,101.1 326.2,101.1 327.2,101.1 328.2,101 329.2,101 330.2,100.9 331.2,100.9 332.2,100.9 333.2,100.8 334.2,100.7 335.3,100.7 336.3,100.6 337.3,100.6 338.4,100.5 339.5,100.4 340.5,100.4 341.6,100.3 342.7,100.2 343.8,100.1 344.9,100 346,100 347.2,99.9 348.3,99.8 349.5,99.7 350.6,99.6 351.8,99.5 353,99.3 354.2,99.2 355.4,99.1 356.7,99 357.9,98.9 359.2,98.7 360.5,98.6 361.8,98.5 363.1,98.4 364.5,98.2 365.8,98.1 367.2,98 368.6,97.9 370,97.8 371.5,97.7 372.9,97.6 374.4,97.5 375.9,97.4 377.4,97.4 379,97.4 380.5,97.4 382.1,97.4 383.7,97.5 385.3,97.6 386.9,97.7 388.5,97.8 390.1,98 391.6,98.3 393.2,98.5 394.8,98.8 396.4,99.2 397.9,99.5 399.4,99.9 401,100.3 402.4,100.7 403.9,101.2 405.4,101.7 406.8,102.1 408.2,102.6 409.5,103.1 410.9,103.6 412.2,104.1 413.5,104.6 414.8,105.1 416.1,105.6 417.3,106.1 418.6,106.6 419.8,107 421,107.5 422.1,108 423.3,108.5 424.5,108.9 425.6,109.4 426.7,109.8 427.8,110.2 428.9,110.7 430,111.1 431.1,111.5 432.2,111.9 433.2,112.3 434.3,112.7 435.3,113.1 436.4,113.5 437.4,113.8 438.4,114.2 439.4,114.6 440.4,114.9 441.4,115.3 442.4,115.6 443.4,116 444.4,116.3 445.3,116.6 446.3,116.9 447.2,117.3 448.2,117.6 449.1,117.9 450.1,118.2 451,118.5 451.9,118.8 452.9,119.1 M323.2,106.8 L324.2,106.8 325.2,106.8 326.1,106.8 327.1,106.7 328.1,106.7 329.1,106.7 330.1,106.7 331.1,106.7 332.1,106.6 333.1,106.6 334.1,106.6 335.1,106.5 336.2,106.5 337.2,106.4 338.3,106.4 339.3,106.3 340.4,106.3 341.5,106.2 342.6,106.2 343.7,106.1 344.8,106 345.9,105.9 347,105.9 348.2,105.8 349.3,105.7 350.5,105.6 351.7,105.5 352.9,105.4 354.1,105.3 355.3,105.2 356.6,105.1 357.8,104.9 359.1,104.8 360.4,104.7 361.7,104.6 363,104.4 364.4,104.3 365.8,104.2 367.2,104 368.6,103.9 370.1,103.8 371.6,103.7 373.1,103.6 374.6,103.5 376.1,103.4 377.7,103.3 379.3,103.3 380.9,103.3 382.6,103.4 384.2,103.4 385.9,103.5 387.5,103.7 389.2,103.9 390.9,104.1 392.5,104.4 394.2,104.7 395.8,105.1 397.4,105.5 398.9,105.9 400.5,106.4 402,106.8 403.5,107.3 405,107.8 406.4,108.3 407.8,108.9 409.2,109.4 410.5,109.9 411.9,110.4 413.2,110.9 414.5,111.4 415.7,111.9 417,112.4 418.2,112.9 419.4,113.4 420.6,113.9 421.8,114.3 422.9,114.8 424.1,115.2 425.2,115.6 426.3,116.1 427.4,116.5 428.5,116.9 429.6,117.3 430.7,117.7 431.7,118.1 432.8,118.5 433.8,118.8 434.9,119.2 435.9,119.6 436.9,119.9 437.9,120.3 438.9,120.6 439.9,120.9 440.9,121.3 441.9,121.6 442.9,121.9 443.8,122.2 444.8,122.5 445.8,122.8 446.7,123.1 447.7,123.4 448.6,123.7 449.5,124 450.5,124.3 451.4,124.6 452.3,124.8 M322.2,112.5 L323.2,112.5 324.1,112.5 325.1,112.5 326,112.5 327,112.5 328,112.6 329,112.5 330,112.5 331,112.5 332,112.5 333,112.5 334,112.5 335,112.5 336.1,112.5 337.1,112.4 338.2,112.4 339.2,112.4 340.3,112.3 341.4,112.3 342.4,112.3 343.5,112.2 344.6,112.2 345.8,112.1 346.9,112.1 348,112 349.2,111.9 350.4,111.8 351.5,111.8 352.7,111.7 353.9,111.6 355.2,111.5 356.4,111.4 357.7,111.3 359,111.2 360.3,111 361.6,110.9 362.9,110.8 364.3,110.6 365.7,110.5 367.1,110.4 368.6,110.2 370.1,110.1 371.6,110 373.1,109.8 374.7,109.7 376.3,109.6 378,109.6 379.7,109.5 381.4,109.5 383.1,109.6 384.8,109.7 386.6,109.8 388.3,110 390.1,110.3 391.8,110.6 393.5,110.9 395.2,111.3 396.8,111.8 398.5,112.3 400.1,112.8 401.6,113.3 403.1,113.8 404.6,114.4 406,114.9 407.5,115.5 408.8,116 410.2,116.5 411.5,117.1 412.8,117.6 414.1,118.1 415.3,118.6 416.6,119 417.8,119.5 419,120 420.2,120.4 421.3,120.9 422.5,121.3 423.6,121.7 424.7,122.1 425.8,122.5 426.9,122.9 428,123.3 429.1,123.7 430.2,124 431.2,124.4 432.3,124.8 433.3,125.1 434.3,125.4 435.4,125.8 436.4,126.1 437.4,126.4 438.4,126.7 439.4,127 440.3,127.3 441.3,127.6 442.3,127.9 443.3,128.2 444.2,128.5 445.2,128.8 446.1,129.1 447.1,129.3 448,129.6 449,129.9 449.9,130.1 450.8,130.4 451.7,130.6 M321.2,118.3 L322.1,118.3 323.1,118.4 324.1,118.4 325,118.4 326,118.4 326.9,118.5 327.9,118.5 328.9,118.5 329.9,118.5 330.9,118.6 331.9,118.6 332.9,118.6 333.9,118.6 334.9,118.6 336,118.6 337,118.6 338.1,118.6 339.1,118.6 340.2,118.6 341.2,118.6 342.3,118.6 343.4,118.6 344.5,118.5 345.6,118.5 346.8,118.5 347.9,118.4 349,118.4 350.2,118.3 351.4,118.3 352.6,118.2 353.8,118.2 355,118.1 356.3,118 357.5,117.9 358.8,117.8 360.1,117.7 361.4,117.6 362.8,117.5 364.2,117.3 365.6,117.2 367,117.1 368.5,116.9 370,116.8 371.6,116.6 373.2,116.5 374.8,116.4 376.5,116.2 378.2,116.2 380,116.1 381.8,116.1 383.7,116.2 385.5,116.3 387.4,116.5 389.2,116.8 391.1,117.1 392.9,117.5 394.6,118 396.3,118.5 398,119 399.6,119.6 401.2,120.2 402.7,120.8 404.2,121.3 405.7,121.9 407.1,122.5 408.4,123 409.8,123.5 411.1,124 412.4,124.5 413.6,125 414.9,125.5 416.1,126 417.3,126.4 418.5,126.8 419.7,127.3 420.8,127.7 421.9,128.1 423.1,128.4 424.2,128.8 425.3,129.2 426.4,129.5 427.5,129.9 428.5,130.2 429.6,130.5 430.6,130.9 431.7,131.2 432.7,131.5 433.7,131.8 434.8,132.1 435.8,132.4 436.8,132.7 437.8,133 438.8,133.2 439.7,133.5 440.7,133.8 441.7,134 442.6,134.3 443.6,134.6 444.6,134.8 445.5,135.1 446.5,135.3 447.4,135.5 448.3,135.8 449.3,136 450.2,136.2 451.1,136.5 M320.2,124.1 L321.2,124.2 322.1,124.2 323.1,124.3 324,124.3 325,124.4 325.9,124.4 326.9,124.5 327.9,124.6 328.9,124.6 329.9,124.6 330.8,124.7 331.8,124.7 332.8,124.8 333.9,124.8 334.9,124.9 335.9,124.9 336.9,124.9 338,125 339,125 340.1,125 341.2,125 342.2,125.1 343.3,125.1 344.4,125.1 345.5,125.1 346.7,125.1 347.8,125.1 348.9,125.1 350.1,125.1 351.3,125.1 352.4,125.1 353.6,125 354.9,125 356.1,125 357.4,124.9 358.6,124.8 359.9,124.8 361.3,124.7 362.6,124.6 364,124.5 365.4,124.4 366.9,124.3 368.4,124.1 369.9,124 371.5,123.8 373.2,123.7 374.9,123.5 376.6,123.4 378.5,123.2 380.4,123.2 382.3,123.2 384.3,123.2 386.3,123.4 388.4,123.7 390.3,124.1 392.3,124.6 394.1,125.2 395.9,125.8 397.6,126.4 399.2,127.1 400.8,127.7 402.3,128.3 403.8,128.9 405.2,129.4 406.6,130 408,130.5 409.3,131 410.6,131.4 411.8,131.9 413.1,132.3 414.3,132.8 415.5,133.2 416.7,133.6 417.9,133.9 419,134.3 420.2,134.6 421.3,135 422.4,135.3 423.5,135.7 424.6,136 425.7,136.3 426.8,136.6 427.9,136.9 428.9,137.2 430,137.4 431,137.7 432,138 433.1,138.3 434.1,138.5 435.1,138.8 436.1,139 437.1,139.3 438.1,139.5 439.1,139.7 440,140 441,140.2 442,140.4 442.9,140.7 443.9,140.9 444.8,141.1 445.8,141.3 446.7,141.5 447.6,141.7 448.6,141.9 449.5,142.1 450.4,142.4 M319.3,130 L320.3,130 321.2,130.1 322.1,130.2 323.1,130.3 324,130.4 325,130.5 325.9,130.6 326.9,130.6 327.9,130.7 328.9,130.8 329.8,130.9 330.8,131 331.8,131 332.8,131.1 333.8,131.2 334.9,131.3 335.9,131.3 336.9,131.4 338,131.5 339,131.6 340.1,131.6 341.1,131.7 342.2,131.8 343.3,131.8 344.4,131.9 345.5,131.9 346.6,132 347.7,132 348.9,132.1 350,132.1 351.2,132.2 352.4,132.2 353.5,132.2 354.8,132.3 356,132.3 357.2,132.3 358.5,132.3 359.8,132.3 361.1,132.3 362.5,132.3 363.8,132.2 365.3,132.2 366.7,132.1 368.2,132 369.7,131.9 371.4,131.8 373,131.6 374.8,131.4 376.6,131.3 378.6,131.1 380.7,131 382.9,130.9 385.2,131.1 387.4,131.5 389.6,132 391.7,132.6 393.6,133.4 395.4,134.1 397.1,134.7 398.7,135.4 400.3,136 401.8,136.5 403.2,137 404.6,137.5 406,138 407.3,138.4 408.6,138.8 409.9,139.2 411.2,139.6 412.4,139.9 413.6,140.3 414.8,140.6 416,140.9 417.2,141.2 418.3,141.5 419.5,141.8 420.6,142.1 421.7,142.4 422.8,142.6 423.9,142.9 425,143.1 426.1,143.4 427.1,143.6 428.2,143.9 429.2,144.1 430.3,144.3 431.3,144.6 432.3,144.8 433.3,145 434.3,145.2 435.3,145.4 436.3,145.6 437.3,145.8 438.3,146 439.3,146.2 440.3,146.4 441.2,146.6 442.2,146.8 443.1,147 444.1,147.2 445,147.4 446,147.5 446.9,147.7 447.8,147.9 448.8,148.1 449.7,148.3 M318.4,135.8 L319.4,136 320.3,136.1 321.2,136.2 322.2,136.3 323.1,136.4 324.1,136.5 325,136.6 326,136.8 327,136.9 327.9,137 328.9,137.1 329.9,137.2 330.9,137.3 331.9,137.5 332.9,137.6 333.9,137.7 334.9,137.8 335.9,137.9 336.9,138 338,138.2 339,138.3 340.1,138.4 341.1,138.5 342.2,138.6 343.3,138.7 344.4,138.9 345.5,139 346.6,139.1 347.7,139.2 348.9,139.3 350,139.4 351.2,139.5 352.3,139.7 353.5,139.8 354.7,139.9 356,140 357.2,140.1 358.5,140.2 359.7,140.3 361.1,140.4 362.4,140.5 363.7,140.6 365.1,140.6 366.6,140.7 368.1,140.8 369.6,140.8 371.2,140.8 372.8,140.8 374.6,140.8 376.5,140.7 378.5,140.5 380.9,140.3 383.7,140.2 386.5,140.7 389,141.6 391.1,142.5 393,143.1 394.8,143.7 396.4,144.2 398,144.7 399.5,145.1 401,145.5 402.4,145.8 403.8,146.1 405.1,146.4 406.4,146.7 407.7,147 409,147.2 410.3,147.5 411.5,147.7 412.7,148 413.9,148.2 415.1,148.4 416.3,148.7 417.4,148.9 418.6,149.1 419.7,149.3 420.8,149.5 421.9,149.7 423,149.9 424.1,150.1 425.2,150.3 426.3,150.4 427.3,150.6 428.4,150.8 429.4,151 430.5,151.2 431.5,151.3 432.5,151.5 433.5,151.7 434.5,151.8 435.5,152 436.5,152.2 437.5,152.3 438.5,152.5 439.4,152.7 440.4,152.8 441.4,153 442.3,153.1 443.3,153.3 444.2,153.4 445.2,153.6 446.1,153.7 447.1,153.9 448,154 448.9,154.2 M317.6,141.7 L318.5,141.9 319.5,142 320.4,142.2 321.3,142.3 322.3,142.5 323.2,142.6 324.2,142.8 325.1,142.9 326.1,143.1 327,143.2 328,143.4 329,143.5 330,143.7 331,143.8 332,144 333,144.1 334,144.3 335,144.5 336,144.6 337,144.8 338.1,145 339.1,145.1 340.2,145.3 341.2,145.5 342.3,145.6 343.4,145.8 344.5,146 345.6,146.2 346.7,146.4 347.8,146.6 349,146.8 350.1,147 351.3,147.2 352.4,147.4 353.6,147.6 354.8,147.8 356.1,148 357.3,148.2 358.6,148.5 359.9,148.7 361.2,149 362.5,149.2 363.9,149.5 365.3,149.8 366.7,150.1 368.2,150.5 369.7,150.8 371.3,151.2 373,151.7 374.7,152.2 376.7,152.9 378.9,153.7 381.6,154.7 384.7,154.9 387.3,154.7 389.6,154.5 391.5,154.5 393.3,154.5 395,154.5 396.6,154.5 398.2,154.6 399.7,154.7 401.1,154.8 402.6,154.9 403.9,155 405.3,155.1 406.6,155.3 407.9,155.4 409.2,155.5 410.4,155.6 411.7,155.8 412.9,155.9 414.1,156 415.2,156.1 416.4,156.3 417.6,156.4 418.7,156.5 419.8,156.6 421,156.8 422.1,156.9 423.2,157 424.2,157.2 425.3,157.3 426.4,157.4 427.4,157.5 428.5,157.7 429.5,157.8 430.6,157.9 431.6,158 432.6,158.2 433.6,158.3 434.6,158.4 435.6,158.5 436.6,158.6 437.6,158.8 438.6,158.9 439.6,159 440.5,159.1 441.5,159.3 442.4,159.4 443.4,159.5 444.3,159.6 445.3,159.7 446.2,159.9 447.2,160 448.1,160.1 M316.8,147.6 L317.7,147.8 318.7,148 319.6,148.2 320.5,148.3 321.5,148.5 322.4,148.7 323.4,148.9 324.3,149 325.3,149.2 326.2,149.4 327.2,149.6 328.2,149.8 329.1,150 330.1,150.2 331.1,150.4 332.1,150.6 333.1,150.8 334.1,151 335.2,151.2 336.2,151.4 337.2,151.6 338.3,151.9 339.3,152.1 340.4,152.3 341.4,152.5 342.5,152.8 343.6,153 344.7,153.3 345.8,153.5 346.9,153.8 348.1,154.1 349.2,154.3 350.4,154.6 351.5,154.9 352.7,155.2 353.9,155.6 355.1,155.9 356.4,156.2 357.7,156.6 358.9,157 360.2,157.4 361.6,157.8 363,158.2 364.4,158.7 365.8,159.2 367.3,159.8 368.9,160.4 370.5,161 372.2,161.7 374.1,162.4 376.1,163.1 378.2,163.8 380.5,164.3 382.8,164.6 385.1,164.7 387.3,164.6 389.4,164.4 391.3,164.2 393.1,164 394.9,163.9 396.5,163.7 398.1,163.6 399.6,163.6 401.1,163.5 402.5,163.5 403.9,163.4 405.2,163.4 406.6,163.4 407.9,163.4 409.1,163.4 410.4,163.4 411.6,163.5 412.9,163.5 414.1,163.5 415.2,163.6 416.4,163.6 417.6,163.7 418.7,163.8 419.9,163.8 421,163.9 422.1,163.9 423.2,164 424.3,164.1 425.3,164.1 426.4,164.2 427.5,164.3 428.5,164.4 429.6,164.5 430.6,164.5 431.6,164.6 432.6,164.7 433.7,164.8 434.7,164.9 435.7,164.9 436.7,165 437.6,165.1 438.6,165.2 439.6,165.3 440.6,165.4 441.5,165.5 442.5,165.5 443.4,165.6 444.4,165.7 445.3,165.8 446.3,165.9 447.2,166 M316.1,153.5 L317,153.7 317.9,153.9 318.9,154.1 319.8,154.3 320.7,154.5 321.7,154.7 322.6,155 323.6,155.2 324.5,155.4 325.5,155.6 326.4,155.8 327.4,156.1 328.4,156.3 329.4,156.5 330.4,156.8 331.4,157 332.4,157.2 333.4,157.5 334.4,157.8 335.4,158 336.5,158.3 337.5,158.5 338.5,158.8 339.6,159.1 340.7,159.4 341.8,159.7 342.8,160 343.9,160.3 345,160.6 346.2,160.9 347.3,161.3 348.4,161.6 349.6,162 350.8,162.4 352,162.7 353.2,163.1 354.4,163.6 355.7,164 357,164.4 358.3,164.9 359.6,165.4 360.9,165.9 362.3,166.5 363.8,167 365.3,167.6 366.8,168.2 368.4,168.8 370,169.5 371.8,170.1 373.6,170.7 375.5,171.3 377.5,171.8 379.5,172.2 381.5,172.4 383.6,172.6 385.6,172.6 387.5,172.6 389.4,172.5 391.3,172.3 393,172.2 394.7,172 396.3,171.8 397.9,171.7 399.4,171.5 400.9,171.4 402.3,171.3 403.7,171.2 405.1,171.1 406.4,171 407.7,171 409,170.9 410.3,170.9 411.5,170.8 412.8,170.8 414,170.8 415.2,170.8 416.3,170.7 417.5,170.7 418.7,170.7 419.8,170.8 420.9,170.8 422,170.8 423.1,170.8 424.2,170.8 425.3,170.8 426.4,170.9 427.4,170.9 428.5,170.9 429.5,171 430.6,171 431.6,171.1 432.6,171.1 433.7,171.1 434.7,171.2 435.7,171.2 436.7,171.3 437.6,171.3 438.6,171.4 439.6,171.5 440.6,171.5 441.5,171.6 442.5,171.6 443.5,171.7 444.4,171.8 445.4,171.8 446.3,171.9 M315.4,159.4 L316.3,159.6 317.2,159.8 318.2,160.1 319.1,160.3 320,160.5 321,160.8 321.9,161 322.9,161.3 323.8,161.5 324.8,161.8 325.7,162 326.7,162.3 327.7,162.5 328.7,162.8 329.7,163.1 330.7,163.4 331.7,163.6 332.7,163.9 333.7,164.2 334.7,164.5 335.8,164.8 336.8,165.1 337.9,165.5 338.9,165.8 340,166.1 341.1,166.5 342.2,166.8 343.3,167.2 344.4,167.6 345.5,167.9 346.7,168.3 347.8,168.7 349,169.1 350.2,169.6 351.4,170 352.6,170.5 353.9,170.9 355.1,171.4 356.4,171.9 357.7,172.4 359.1,173 360.5,173.5 361.9,174.1 363.3,174.6 364.8,175.2 366.4,175.8 368,176.4 369.6,177 371.3,177.5 373.1,178 374.8,178.5 376.7,178.9 378.5,179.2 380.4,179.5 382.3,179.6 384.2,179.7 386,179.8 387.8,179.7 389.6,179.7 391.3,179.6 393,179.4 394.6,179.3 396.2,179.1 397.7,179 399.2,178.8 400.7,178.7 402.1,178.6 403.5,178.4 404.9,178.3 406.3,178.2 407.6,178.1 408.9,178 410.1,177.9 411.4,177.8 412.6,177.8 413.8,177.7 415,177.6 416.2,177.6 417.4,177.5 418.6,177.5 419.7,177.5 420.8,177.4 421.9,177.4 423.1,177.4 424.1,177.4 425.2,177.4 426.3,177.3 427.4,177.3 428.4,177.3 429.5,177.3 430.5,177.3 431.6,177.4 432.6,177.4 433.6,177.4 434.6,177.4 435.6,177.4 436.6,177.4 437.6,177.5 438.6,177.5 439.6,177.5 440.5,177.5 441.5,177.6 442.5,177.6 443.4,177.6 444.4,177.7 445.3,177.7 M314.8,165.2 L315.7,165.5 316.6,165.7 317.5,166 318.5,166.2 319.4,166.5 320.3,166.8 321.3,167 322.2,167.3 323.2,167.6 324.2,167.9 325.1,168.1 326.1,168.4 327.1,168.7 328.1,169 329.1,169.3 330.1,169.6 331.1,170 332.1,170.3 333.1,170.6 334.1,171 335.2,171.3 336.2,171.6 337.3,172 338.4,172.4 339.4,172.7 340.5,173.1 341.6,173.5 342.7,173.9 343.9,174.3 345,174.7 346.1,175.2 347.3,175.6 348.5,176 349.7,176.5 350.9,177 352.1,177.5 353.4,178 354.7,178.5 356,179 357.3,179.5 358.7,180 360.1,180.6 361.5,181.1 363,181.7 364.4,182.2 366,182.8 367.5,183.3 369.1,183.8 370.8,184.3 372.5,184.7 374.2,185.1 375.9,185.5 377.7,185.8 379.4,186 381.2,186.2 383,186.3 384.7,186.4 386.4,186.4 388.1,186.4 389.8,186.3 391.4,186.2 393,186.1 394.6,186 396.2,185.9 397.7,185.8 399.1,185.6 400.6,185.5 402,185.3 403.4,185.2 404.8,185.1 406.1,184.9 407.4,184.8 408.7,184.7 410,184.6 411.2,184.5 412.5,184.4 413.7,184.3 414.9,184.2 416.1,184.1 417.3,184.1 418.4,184 419.6,183.9 420.7,183.9 421.8,183.8 422.9,183.8 424,183.7 425.1,183.7 426.2,183.6 427.3,183.6 428.3,183.6 429.4,183.6 430.4,183.5 431.5,183.5 432.5,183.5 433.5,183.5 434.5,183.5 435.5,183.5 436.5,183.5 437.5,183.5 438.5,183.5 439.5,183.5 440.5,183.5 441.5,183.5 442.4,183.5 443.4,183.5 444.3,183.5 M314.2,171 L315.1,171.3 316,171.6 316.9,171.8 317.9,172.1 318.8,172.4 319.7,172.7 320.7,173 321.7,173.3 322.6,173.6 323.6,173.9 324.5,174.2 325.5,174.5 326.5,174.8 327.5,175.2 328.5,175.5 329.5,175.8 330.5,176.2 331.5,176.5 332.6,176.9 333.6,177.3 334.6,177.6 335.7,178 336.8,178.4 337.8,178.8 338.9,179.2 340,179.6 341.1,180 342.3,180.4 343.4,180.9 344.5,181.3 345.7,181.8 346.9,182.2 348.1,182.7 349.3,183.2 350.5,183.7 351.8,184.1 353,184.7 354.3,185.2 355.6,185.7 357,186.2 358.3,186.7 359.7,187.2 361.1,187.8 362.6,188.3 364.1,188.8 365.6,189.3 367.1,189.7 368.7,190.2 370.2,190.6 371.9,191 373.5,191.4 375.2,191.7 376.8,192 378.5,192.2 380.2,192.4 381.9,192.5 383.5,192.6 385.2,192.7 386.8,192.7 388.4,192.7 390,192.6 391.6,192.6 393.2,192.5 394.7,192.4 396.2,192.3 397.7,192.1 399.1,192 400.5,191.9 401.9,191.7 403.3,191.6 404.6,191.5 406,191.3 407.3,191.2 408.6,191.1 409.8,191 411.1,190.9 412.3,190.7 413.5,190.6 414.7,190.5 415.9,190.4 417.1,190.3 418.3,190.2 419.4,190.2 420.6,190.1 421.7,190 422.8,189.9 423.9,189.9 425,189.8 426.1,189.8 427.2,189.7 428.2,189.6 429.3,189.6 430.3,189.6 431.4,189.5 432.4,189.5 433.4,189.4 434.4,189.4 435.5,189.4 436.5,189.4 437.5,189.3 438.4,189.3 439.4,189.3 440.4,189.3 441.4,189.3 442.3,189.3 443.3,189.3 M313.6,176.7 L314.5,177 315.5,177.3 316.4,177.6 317.3,177.9 318.3,178.2 319.2,178.5 320.2,178.9 321.1,179.2 322.1,179.5 323.1,179.8 324,180.2 325,180.5 326,180.9 327,181.2 328,181.6 329,181.9 330,182.3 331.1,182.7 332.1,183 333.1,183.4 334.2,183.8 335.2,184.2 336.3,184.6 337.4,185 338.5,185.5 339.6,185.9 340.7,186.3 341.8,186.8 343,187.2 344.1,187.7 345.3,188.1 346.5,188.6 347.7,189.1 348.9,189.6 350.1,190 351.4,190.5 352.7,191 354,191.5 355.3,192 356.6,192.5 358,193 359.4,193.5 360.8,194 362.2,194.5 363.6,195 365.1,195.4 366.6,195.8 368.1,196.2 369.7,196.6 371.3,197 372.8,197.3 374.4,197.6 376,197.9 377.6,198.1 379.2,198.3 380.8,198.4 382.4,198.5 384,198.6 385.6,198.6 387.2,198.7 388.8,198.6 390.3,198.6 391.8,198.6 393.3,198.5 394.8,198.4 396.2,198.3 397.7,198.2 399.1,198.1 400.5,198 401.9,197.8 403.2,197.7 404.6,197.6 405.9,197.5 407.2,197.3 408.4,197.2 409.7,197.1 411,197 412.2,196.8 413.4,196.7 414.6,196.6 415.8,196.5 417,196.4 418.1,196.3 419.3,196.2 420.4,196.1 421.5,196 422.7,195.9 423.8,195.8 424.9,195.8 425.9,195.7 427,195.6 428.1,195.6 429.2,195.5 430.2,195.4 431.2,195.4 432.3,195.3 433.3,195.3 434.3,195.2 435.3,195.2 436.3,195.1 437.3,195.1 438.3,195.1 439.3,195 440.3,195 441.3,195 442.3,194.9 M313.1,182.4 L314,182.7 315,183 315.9,183.4 316.8,183.7 317.8,184 318.7,184.3 319.7,184.7 320.6,185 321.6,185.3 322.6,185.7 323.6,186 324.5,186.4 325.5,186.8 326.5,187.1 327.5,187.5 328.6,187.9 329.6,188.3 330.6,188.7 331.7,189.1 332.7,189.5 333.8,189.9 334.8,190.3 335.9,190.7 337,191.1 338.1,191.6 339.2,192 340.3,192.4 341.5,192.9 342.6,193.3 343.8,193.8 345,194.3 346.1,194.7 347.3,195.2 348.6,195.7 349.8,196.2 351.1,196.7 352.3,197.1 353.6,197.6 354.9,198.1 356.3,198.6 357.6,199.1 359,199.5 360.4,200 361.8,200.4 363.2,200.8 364.7,201.3 366.1,201.7 367.6,202 369.1,202.4 370.6,202.7 372.2,203 373.7,203.3 375.2,203.5 376.8,203.7 378.3,203.9 379.9,204.1 381.4,204.2 383,204.3 384.5,204.4 386,204.4 387.6,204.4 389.1,204.4 390.6,204.4 392,204.3 393.5,204.3 394.9,204.2 396.3,204.1 397.7,204 399.1,203.9 400.5,203.8 401.9,203.7 403.2,203.6 404.5,203.5 405.8,203.3 407.1,203.2 408.4,203.1 409.6,203 410.8,202.8 412.1,202.7 413.3,202.6 414.5,202.5 415.7,202.4 416.8,202.3 418,202.1 419.1,202 420.3,201.9 421.4,201.8 422.5,201.7 423.6,201.7 424.7,201.6 425.8,201.5 426.9,201.4 428,201.3 429,201.2 430.1,201.2 431.1,201.1 432.2,201 433.2,201 434.2,200.9 435.2,200.8 436.2,200.8 437.2,200.7 438.2,200.7 439.2,200.6 440.2,200.6 441.2,200.5 M312.6,188 L313.6,188.3 314.5,188.7 315.4,189 316.4,189.3 317.3,189.7 318.3,190 319.2,190.4 320.2,190.7 321.2,191.1 322.1,191.5 323.1,191.8 324.1,192.2 325.1,192.6 326.1,193 327.1,193.3 328.2,193.7 329.2,194.1 330.2,194.5 331.3,194.9 332.3,195.4 333.4,195.8 334.5,196.2 335.5,196.6 336.6,197.1 337.7,197.5 338.9,197.9 340,198.4 341.1,198.8 342.3,199.3 343.4,199.7 344.6,200.2 345.8,200.7 347,201.1 348.3,201.6 349.5,202.1 350.7,202.5 352,203 353.3,203.5 354.6,203.9 355.9,204.4 357.3,204.8 358.6,205.3 360,205.7 361.4,206.1 362.8,206.5 364.2,206.9 365.6,207.3 367.1,207.6 368.5,207.9 370,208.3 371.5,208.5 373,208.8 374.5,209 376,209.2 377.5,209.4 379,209.6 380.5,209.7 382,209.8 383.5,209.9 385,209.9 386.4,210 387.9,210 389.4,210 390.8,209.9 392.2,209.9 393.7,209.9 395.1,209.8 396.5,209.7 397.8,209.6 399.2,209.5 400.5,209.4 401.9,209.3 403.2,209.2 404.5,209.1 405.8,209 407,208.9 408.3,208.8 409.5,208.6 410.8,208.5 412,208.4 413.2,208.3 414.4,208.2 415.6,208 416.7,207.9 417.9,207.8 419,207.7 420.2,207.6 421.3,207.5 422.4,207.4 423.5,207.3 424.6,207.2 425.7,207.1 426.8,207 427.8,206.9 428.9,206.8 429.9,206.8 431,206.7 432,206.6 433.1,206.5 434.1,206.4 435.1,206.4 436.1,206.3 437.1,206.2 438.1,206.2 439.1,206.1 440.1,206.1 M312.2,193.5 L313.1,193.9 314.1,194.2 315,194.6 315.9,194.9 316.9,195.3 317.9,195.6 318.8,196 319.8,196.4 320.8,196.7 321.7,197.1 322.7,197.5 323.7,197.9 324.7,198.3 325.7,198.7 326.8,199 327.8,199.5 328.8,199.9 329.9,200.3 330.9,200.7 332,201.1 333,201.5 334.1,202 335.2,202.4 336.3,202.8 337.4,203.3 338.5,203.7 339.7,204.1 340.8,204.6 342,205 343.1,205.5 344.3,206 345.5,206.4 346.7,206.9 347.9,207.3 349.2,207.8 350.4,208.2 351.7,208.7 353,209.1 354.3,209.5 355.6,210 356.9,210.4 358.2,210.8 359.6,211.2 360.9,211.6 362.3,212 363.7,212.3 365.1,212.7 366.5,213 368,213.3 369.4,213.6 370.8,213.9 372.3,214.1 373.7,214.3 375.2,214.6 376.7,214.7 378.1,214.9 379.6,215 381.1,215.1 382.5,215.2 384,215.3 385.4,215.3 386.8,215.4 388.3,215.4 389.7,215.4 391.1,215.4 392.5,215.3 393.9,215.3 395.2,215.2 396.6,215.2 397.9,215.1 399.3,215 400.6,214.9 401.9,214.8 403.2,214.7 404.5,214.6 405.7,214.5 407,214.4 408.2,214.3 409.5,214.1 410.7,214 411.9,213.9 413.1,213.8 414.3,213.7 415.5,213.6 416.6,213.5 417.8,213.3 418.9,213.2 420,213.1 421.2,213 422.3,212.9 423.4,212.8 424.5,212.7 425.6,212.6 426.6,212.5 427.7,212.4 428.8,212.3 429.8,212.2 430.9,212.1 431.9,212 432.9,212 434,211.9 435,211.8 436,211.7 437,211.6 438,211.6 439,211.5 M311.8,199 L312.7,199.3 313.7,199.7 314.6,200.1 315.6,200.4 316.5,200.8 317.5,201.2 318.4,201.5 319.4,201.9 320.4,202.3 321.4,202.7 322.4,203.1 323.4,203.4 324.4,203.8 325.4,204.2 326.4,204.6 327.4,205 328.5,205.5 329.5,205.9 330.6,206.3 331.7,206.7 332.7,207.1 333.8,207.6 334.9,208 336,208.4 337.1,208.9 338.2,209.3 339.4,209.7 340.5,210.2 341.7,210.6 342.8,211.1 344,211.5 345.2,212 346.4,212.4 347.6,212.8 348.9,213.3 350.1,213.7 351.4,214.1 352.6,214.6 353.9,215 355.2,215.4 356.5,215.8 357.8,216.2 359.2,216.6 360.5,216.9 361.9,217.3 363.2,217.6 364.6,218 366,218.3 367.4,218.6 368.8,218.8 370.2,219.1 371.6,219.3 373,219.5 374.5,219.7 375.9,219.9 377.3,220.1 378.7,220.2 380.2,220.3 381.6,220.4 383,220.5 384.4,220.6 385.8,220.6 387.2,220.6 388.6,220.6 390,220.6 391.4,220.6 392.7,220.6 394.1,220.5 395.4,220.5 396.7,220.4 398.1,220.4 399.4,220.3 400.7,220.2 402,220.1 403.2,220 404.5,219.9 405.8,219.8 407,219.7 408.2,219.6 409.4,219.5 410.7,219.4 411.8,219.3 413,219.2 414.2,219.1 415.4,218.9 416.5,218.8 417.7,218.7 418.8,218.6 419.9,218.5 421.1,218.4 422.2,218.3 423.3,218.2 424.4,218.1 425.4,218 426.5,217.9 427.6,217.8 428.6,217.7 429.7,217.6 430.7,217.5 431.8,217.4 432.8,217.3 433.8,217.2 434.8,217.1 435.9,217 436.9,216.9 437.9,216.9 M311.4,204.4 L312.3,204.7 313.3,205.1 314.2,205.5 315.2,205.8 316.1,206.2 317.1,206.6 318.1,207 319.1,207.3 320,207.7 321,208.1 322,208.5 323,208.9 324.1,209.3 325.1,209.7 326.1,210.1 327.1,210.5 328.2,210.9 329.2,211.4 330.3,211.8 331.3,212.2 332.4,212.6 333.5,213 334.6,213.5 335.7,213.9 336.8,214.3 337.9,214.8 339.1,215.2 340.2,215.6 341.4,216.1 342.5,216.5 343.7,216.9 344.9,217.4 346.1,217.8 347.3,218.2 348.5,218.6 349.8,219 351,219.5 352.3,219.9 353.5,220.3 354.8,220.7 356.1,221 357.4,221.4 358.7,221.8 360.1,222.1 361.4,222.4 362.7,222.8 364.1,223.1 365.4,223.4 366.8,223.7 368.2,223.9 369.6,224.2 370.9,224.4 372.3,224.6 373.7,224.8 375.1,225 376.5,225.1 377.9,225.3 379.3,225.4 380.7,225.5 382.1,225.6 383.5,225.6 384.8,225.7 386.2,225.7 387.6,225.8 388.9,225.8 390.3,225.8 391.6,225.8 393,225.7 394.3,225.7 395.6,225.6 396.9,225.6 398.2,225.5 399.5,225.5 400.8,225.4 402,225.3 403.3,225.2 404.5,225.1 405.8,225 407,224.9 408.2,224.8 409.4,224.7 410.6,224.6 411.8,224.5 413,224.4 414.2,224.3 415.3,224.2 416.5,224.1 417.6,224 418.7,223.8 419.8,223.7 421,223.6 422.1,223.5 423.2,223.4 424.2,223.3 425.3,223.2 426.4,223.1 427.5,223 428.5,222.9 429.6,222.8 430.6,222.7 431.7,222.6 432.7,222.5 433.7,222.4 434.7,222.3 435.7,222.2 436.7,222.1"/><path d="M395.9,150.2 L395.2,155 394.8,157.3 394.5,159 394.2,160.4 393.8,161.7 393.5,162.8 393.1,163.8 392.7,164.8 392.3,165.6 391.9,166.3 391.4,167 390.9,167.6 390.4,168.1 389.9,168.5 389.3,168.9 388.6,169.2 387.9,169.5 387.1,169.6 386.3,169.8 385.3,169.8 384.2,169.7 382.5,169.6 378.6,169 377,168.7 375.9,168.5 375,168.2 374.2,167.8 373.5,167.4 372.9,167 372.3,166.5 371.9,166 371.5,165.4 371.1,164.8 370.8,164.1 370.5,163.3 370.3,162.5 370.1,161.6 370,160.6 369.9,159.5 369.9,158.3 369.9,157 370,155.5 370.2,153.8 370.5,151.6 371.1,146.8 371.8,142 372.2,139.7 372.5,138 372.8,136.6 373.2,135.3 373.5,134.2 373.9,133.2 374.3,132.2 374.7,131.4 375.1,130.7 375.6,130 376.1,129.4 376.6,128.9 377.1,128.5 377.7,128.1 378.4,127.8 379.1,127.5 379.9,127.4 380.7,127.2 381.7,127.2 382.8,127.3 384.5,127.4 388.4,128 390,128.3 391.1,128.5 392,128.8 392.8,129.2 393.5,129.6 394.1,130 394.7,130.5 395.1,131 395.5,131.6 395.9,132.2 396.2,132.9 396.5,133.7 396.7,134.5 396.9,135.4 397,136.4 397.1,137.5 397.1,138.7 397.1,140 397,141.5 396.8,143.2 396.5,145.4Z" fill="#fff"/><g clip-path="url(#pit1)"><path d="M378.7,123.6 L370.1,170.8 M383.3,124.2 L374.6,171.5 M387.8,124.9 L379.2,172.1 M392.4,125.5 L383.7,172.8 M396.9,126.2 L388.3,173.4 M372.1,129.1 L399.6,134.5 M371.5,133.5 L399,138.9 M370.9,137.8 L398.4,143.2 M370.2,142.2 L397.8,147.6 M369.6,146.6 L397.2,151.9 M369,150.9 L396.5,156.3 M368.4,155.3 L395.9,160.6 M367.8,159.6 L395.3,165 M367.2,164 L394.7,169.4"/></g></g>
<path d="M380.1,182.2 C381,180.6 383.7,179.4 385.7,179.4 C387.7,179.4 390,180.6 392.2,182.2 C394.4,183.8 397,186.7 398.7,188.7 C400.4,190.7 402.2,192.6 402.4,194.3 C402.6,196 401.4,198 400,199 C398.6,200 396.1,200.2 394,200.5 C391.9,200.8 389.6,201.5 387.6,200.8 C385.6,200.1 383.2,198.2 382,196.2 C380.8,194.2 380.4,191 380.1,188.7 C379.8,186.4 379.2,183.8 380.1,182.2Z" fill="#fff"/>
<path d="M381.5,181.5 C381.1,182.2 379.2,184.2 379,186 C378.8,187.8 380.2,191 380.5,192"/>
<ellipse cx="397.8" cy="194.3" rx="4.4" ry="4.8" transform="rotate(20 397.8 194.3)" fill="#fff"/>
<ellipse cx="398" cy="194.5" rx="2.3" ry="2.8" transform="rotate(20 398 194.5)"/>
<path d="M394.5,118 C395.3,117.2 397.4,117 398.5,117.5 C399.6,118 400.8,119.8 401,121 C401.2,122.2 400.4,124.2 399.5,125 C398.6,125.8 396.5,126 395.5,125.5 C394.5,125 393.7,123.2 393.5,122 C393.3,120.8 393.7,118.8 394.5,118Z" fill="#fff"/>
<ellipse cx="397.2" cy="121.6" rx="1.8" ry="2.4" transform="rotate(20 397.2 121.6)"/>
<ellipse cx="462.3" cy="197.6" rx="55.9" ry="33.1" transform="rotate(-59.3 462.3 197.6)"/>
<ellipse cx="462.7" cy="197.7" rx="50" ry="29" transform="rotate(-60.4 462.7 197.7)"/>
<path d="M501.3,234.1 C502.2,232.9 505.2,229.3 507,227 C508.8,224.7 510,222.1 511.8,220.1 C513.6,218.1 515.5,216.1 518,215 C520.5,213.9 523.4,213.3 526.6,213.6 C529.8,213.9 534,215.3 537,217 C540,218.7 542.9,221.4 544.5,224 C546.1,226.6 546.6,229.7 546.8,232.4 C547,235.1 546.7,237.4 545.8,240 C544.9,242.6 543.5,245.8 541.5,248 C539.5,250.2 536.3,251.9 534,253 C531.7,254.1 529.8,254 527.5,254.3 C525.2,254.6 522,254.7 520,254.8 C518,254.9 516.1,255.1 515.3,255.1"/>
<path d="M483.1,244.4 L502.2,234.5 M494.3,266 L515.3,254.9"/>
<path d="M502.2,234.5 C503.1,234.4 505.8,233.6 507.4,234.2 C509,234.8 510.7,236.6 512,238 C513.3,239.4 514.5,240.7 515.3,242.7 C516.1,244.7 516.5,248 516.6,250 C516.7,252 516.1,254.1 516,254.9"/>
<ellipse cx="489" cy="255.4" rx="7.2" ry="11.2" transform="rotate(-30 489 255.4)"/>
<ellipse cx="490.6" cy="256.4" rx="5.6" ry="9.4" transform="rotate(-30 490.6 256.4)"/>
<ellipse cx="483.8" cy="254.3" rx="2" ry="2.8" transform="rotate(-20 483.8 254.3)"/>
<ellipse cx="491.2" cy="259" rx="2.4" ry="3" transform="rotate(-20 491.2 259)"/>
<ellipse cx="494" cy="242.4" rx="1.3" ry="1.6" transform="rotate(0 494 242.4)"/>
<path d="M560.4,228.5 L560.4,217 564.6,215.4 565.6,219.6 568.3,220.6 570.3,218 571.4,211.3 574,210.2 574,221.7 560.4,228.5"/>
<path d="M560.4,228.5 L568.3,233.2 M574,221.7 L600,236.3"/>
<path d="M568.3,234.2 C567.5,235.6 564.3,239.7 563.6,242.5 C562.9,245.3 563.2,249 564.1,250.9 C565,252.8 568.7,253 569.3,254 C569.9,255 569.4,256.4 567.7,257.1 C566.1,257.8 561.1,257.4 559.4,258.2 C557.7,259 556.9,260.7 557.3,261.8 C557.6,262.9 557.9,264 561.5,265 C565.1,266 575.7,266.8 579.2,267.6 C582.7,268.4 581.2,268.9 582.3,269.7 C583.4,270.5 585.4,271.9 586,272.3"/>
<path d="M568.3,234.2 C568.9,234 570.4,233 572,233 C573.6,233 576.1,232.9 578.2,234.2 C580.3,235.4 582.4,238.1 584.4,240.5 C586.4,242.9 589.1,247.4 590.1,248.8"/>
<path d="M598,225.9 C598.5,225.6 599.4,224.2 601.1,224.3 C602.8,224.4 606.1,225.5 608.4,226.4 C610.7,227.3 613,227.7 614.7,230 C616.4,232.3 618,237.7 618.8,240.5 C619.6,243.3 618.8,242.5 619.3,246.7 C619.8,250.9 621.4,259.9 622,265.5 C622.6,271.1 623.5,275.9 623,280.1 C622.5,284.3 621.2,287.7 618.8,290.5 C616.4,293.3 610.1,295.8 608.4,296.8"/>
<path d="M598,225.9 C597.9,226.8 597.1,229.4 597.4,231.1 C597.7,232.8 599,234.1 600,236.3 C601,238.6 602.7,243.2 603.2,244.6"/>
<path d="M589.1,244.1 L599.5,238.2"/>
<path d="M586,272.3 L595.9,278 617.8,268.6 M586,272.3 L607.9,264.4 617.8,268.6"/>
<path d="M595.9,278 L595.9,304.6"/>
<path d="M561.5,295.7 L561.5,285.3 576.6,278 595.9,287.4 M561.5,295.7 L564.1,294.7 564.1,287.4 M564.6,286.3 L595.9,304.6"/>
<path d="M602.1,278 C603.4,276.7 607.4,271.3 610,270 C612.6,268.7 615.8,268.7 618,270 C620.2,271.3 622.5,275 623,278 C623.5,281 622.5,285.2 621,288 C619.5,290.8 616.5,293.5 614,295 C611.5,296.5 607.6,296.5 606.3,296.8"/>
<path d="M601.1,288.4 C601.2,289.2 601,291.8 601.5,293 C602,294.2 603.8,295.2 604.2,295.7"/>
<path d="M584.4,295.7 L594.8,295.7"/>
<path d="M584.4,295.7 C583.7,296.1 582.8,297.4 580.2,298.3 C577.6,299.2 572.4,299.9 568.8,301 C565.1,302.1 560.1,303.7 558.3,305.1 C556.5,306.5 556.9,308.4 557.8,309.3 C558.7,310.2 561.9,309.4 563.6,310.3 C565.4,311.2 564.8,314.1 568.3,314.5 C571.8,314.9 580,313.4 584.4,312.4 C588.8,311.3 591.1,310.4 594.8,308.2 C598.5,305.9 604.8,300.4 606.8,298.9"/>
<g stroke-width="1.2">
<ellipse cx="669.8" cy="229.6" rx="4" ry="4.6" transform="rotate(20 669.8 229.6)"/>
<ellipse cx="670.8" cy="230.3" rx="2.2" ry="2.8" transform="rotate(20 670.8 230.3)"/>
<path d="M672.6,228.5 L689.6,237 691.3,241.5 687.9,242.1 671.5,233.6"/>
<path d="M675,229 q1.8,1.2 0.6,5"/>
<path d="M678.3,230.7 q1.8,1.2 0.6,5"/>
<path d="M681.6,232.4 q1.8,1.2 0.6,5"/>
<path d="M684.9,234.1 q1.8,1.2 0.6,5"/>
</g>
<ellipse cx="666.4" cy="286.3" rx="3.6" ry="4" transform="rotate(20 666.4 286.3)"/>
<ellipse cx="666.8" cy="286.6" rx="1.6" ry="2" transform="rotate(20 666.8 286.6)"/>
<path d="M655,326.6 L655,289.7 668.6,295.4"/>
<path d="M668.6,295.4 C669.8,296.4 673.6,299.4 676,301.5 C678.4,303.6 681.5,306.4 682.8,307.9 C684.1,309.4 684.3,310.2 683.9,310.7 C683.5,311.2 682.1,311.3 680.5,310.7 C678.9,310.1 676.1,308.4 674,307.3 C671.9,306.2 669.8,304.6 668.1,304.4 C666.5,304.2 665,305.1 664.1,306.1 C663.2,307.2 662.7,308.4 663,310.7 C663.3,313 664.2,316.8 665.8,319.8 C667.4,322.8 669.6,326.2 672.6,328.8 C675.6,331.4 682.2,334 683.9,335.6 C685.6,337.2 684.7,338.3 682.8,338.5 C680.9,338.7 675.9,338 672.6,336.8 C669.3,335.6 665.9,333.2 663,331.5 C660.1,329.8 656.3,327.4 655,326.6"/>
<path d="M664.5,310 C664.8,310.5 665.9,312 666.5,313 C667.1,314 668.1,315 668,316 C667.9,317 666.3,318.5 666,319"/>
<ellipse cx="666.3" cy="316.5" rx="1.5" ry="1.8" transform="rotate(0 666.3 316.5)"/>
<path d="M691.6,371.4 C692.2,368.3 692.8,359.2 695,352.9 C697.2,346.6 701,339.7 704.6,333.8 C708.2,327.9 712.3,322.2 716.9,317.4 C721.5,312.6 726.8,308.1 732,305 C737.2,301.9 743.6,299.7 748.4,298.9 C753.2,298.1 756.6,298.6 760.7,300.3 C764.8,302 768.9,305.6 773,309.1 C777.1,312.6 781.6,316 785.3,321.5 C788.9,327 793.1,334.9 794.9,342 C796.7,349.1 796.4,357.8 796.2,363.9 C796,370 795.3,373.9 793.5,378.9 C791.7,383.9 788.7,390 785.3,393.9 C781.9,397.8 777.8,399.6 773,402.1 C768.2,404.6 761.9,407.2 756.6,409 C751.4,410.8 746.5,412.3 741.5,413.1 C736.5,413.9 729,413.7 726.5,413.8"/>
<path d="M712.1,358.4 C713.6,355.7 717.2,347.7 721,342 C724.8,336.3 729.7,329.1 734.7,324.2 C739.7,319.3 745.2,315.2 751.1,312.6 C757,310 766.3,309.1 770.3,308.5 C774.3,307.9 774.2,308.9 775,309"/>
<path d="M699.1,368 C701.6,366.4 707.9,360.5 714.2,358.4 C720.5,356.3 733,355.9 736.8,355.4"/>
<path d="M736.8,384.4 C739.6,383.5 748.5,381.4 753.9,378.9 C759.2,376.4 764.1,372.8 768.9,369.3 C773.7,365.8 780.3,359.6 782.6,357.7"/>
<path d="M792.1,360.4 L795.5,365"/>
<path d="M726.5,411.7 C730.1,411 740.2,409.4 748.4,407.6 C756.6,405.8 771.2,401.9 775.7,400.8"/>
<path d="M678.1,381.3 L677.3,389.1 680.8,388.7"/>
<path d="M679,380.4 L699.1,369"/>
<path d="M699.1,369 C700.3,369.1 703,368.4 706.1,369.4 C709.2,370.4 714.1,372.8 717.5,375.1 C720.9,377.4 724.8,381.7 726.3,383"/>
<path d="M728.9,386.5 C729.3,387.4 730.9,389.5 731.5,391.8 C732.1,394.1 732.4,397.7 732.4,400.5 C732.4,403.3 731.9,406.5 731.5,408.4 C731.1,410.3 730.1,411.3 729.8,411.9"/>
<path d="M729.8,411.9 L714,420.6"/>
<path d="M714,420.6 C713.1,420.9 710.8,422.5 708.8,422.4 C706.8,422.3 703.3,420.8 701.8,420.2 C700.3,419.6 700,419.1 699.6,418.9"/>
<path d="M681.6,378.6 C683.1,378.6 687.3,377.9 690.4,378.6 C693.5,379.3 696.9,381.1 700,383 C703.1,384.9 706.3,387.5 708.8,390 C711.3,392.5 713.4,395.1 714.9,397.9 C716.4,400.7 717.1,403.5 717.5,406.6 C717.9,409.7 717.5,414.7 717.5,416.3"/>
<path d="M682.5,380.4 C684.2,380.5 689.6,380.3 693,381.3 C696.4,382.3 699.7,384.5 702.6,386.5 C705.5,388.5 708.6,390.9 710.5,393.5 C712.4,396.1 713.4,398.8 714,402.3 C714.6,405.8 714.1,411.6 714,414.5 C713.9,417.4 713.2,418.9 713.1,419.8"/>
<path d="M684.3,385.6 C685.3,385.5 688.1,384.6 690.4,385.2 C692.7,385.8 696,387.4 698.3,389.1 C700.6,390.8 702.8,393 704.4,395.3 C706,397.6 707.2,400.8 707.9,403.1 C708.6,405.4 708.9,407.4 708.8,409.3 C708.6,411.2 707.7,413.3 707,414.5 C706.3,415.7 704.8,416 704.4,416.3"/>
<path d="M638.3,412.8 L680.8,388.7 M658.2,441.9 L704.4,416.3"/>
<path d="M616,446.5 C615,446.6 613,446.6 610.3,447.3 C607.6,448 602.7,448.5 599.6,450.6 C596.5,452.7 594.1,456.8 591.8,459.8 C589.5,462.8 588.5,466 586,468.4 C583.5,470.8 580.2,472.7 576.8,474.1 C573.4,475.5 568.4,476.2 565.5,477 C562.6,477.8 560.7,478.7 559.7,479" stroke="#000" stroke-width="9.4"/><path d="M616,446.5 C615,446.6 613,446.6 610.3,447.3 C607.6,448 602.7,448.5 599.6,450.6 C596.5,452.7 594.1,456.8 591.8,459.8 C589.5,462.8 588.5,466 586,468.4 C583.5,470.8 580.2,472.7 576.8,474.1 C573.4,475.5 568.4,476.2 565.5,477 C562.6,477.8 560.7,478.7 559.7,479" stroke="#fff" stroke-width="7.4"/>

<path d="M615.3,413 C616.6,411.5 619.1,410.8 621.4,410.3 C623.7,409.9 626.4,409.8 629.1,410.3 C631.8,410.8 635,412 637.5,413.4 C640,414.8 642.2,416.7 644.4,418.4 C646.6,420.1 648.7,421.8 650.5,423.7 C652.3,425.6 654,427.8 655.1,429.9 C656.2,431.9 656.9,433.8 657.4,436 C657.9,438.2 658.1,440.6 658.2,442.9 C658.3,445.2 658.5,447.8 658.2,449.8 C658,451.8 657.5,453.7 656.7,455.1 C655.9,456.5 654.8,457.4 653.6,458.2 C652.5,459 650.8,459.2 649.8,459.7 C648.8,460.2 649,461.2 647.5,461.3 C646,461.4 643,461.3 640.6,460.5 C638.2,459.7 635.5,458.2 632.9,456.7 C630.3,455.2 627.6,453.1 625.3,451.3 C623,449.5 620.9,448.2 619.1,446 C617.3,443.8 615.7,441.1 614.6,438.3 C613.5,435.5 612.8,432.3 612.6,429.1 C612.4,425.9 613,421.8 613.4,419.1 C613.8,416.4 614,414.5 615.3,413Z" fill="#fff"/>
<path d="M613.8,416.1 C614.7,415.6 617.6,413.4 619.1,413 C620.6,412.6 621.1,413.2 623,413.8 C624.9,414.4 628.1,415.4 630.6,416.8 C633.1,418.2 635.9,420.1 638.3,422.2 C640.7,424.2 643.3,426.8 645.2,429.1 C647.1,431.4 648.6,433.7 649.8,436 C650.9,438.3 651.6,440.5 652.1,442.9 C652.6,445.3 652.9,447.8 652.8,450.5 C652.7,453.2 651.8,457.5 651.3,459 C650.8,460.5 650,459.6 649.8,459.7"/>
<path d="M619.1,436 C620.5,435.1 625.4,431.6 627.6,430.6 C629.8,429.6 630.8,429.6 632.2,429.9 C633.6,430.2 635,431 636,432.2 C637,433.4 637.6,435.1 637.9,436.8 C638.1,438.5 638.2,440.6 637.5,442.1 C636.8,443.6 635.7,444.6 633.7,446 C631.7,447.4 627.6,449.5 625.3,450.5 C623,451.5 620.9,451.8 620,452" fill="#fff"/>
<path d="M620.5,435.2 C621,435.8 622.8,437.1 623.5,438.5 C624.2,439.9 624.8,441.8 625,443.5 C625.2,445.2 624.8,448.1 624.8,449"/>
<path d="M624.3,433.3 C624.8,433.9 626.5,435.2 627.3,436.6 C628,438 628.6,439.9 628.8,441.6 C629,443.4 628.6,446.2 628.6,447.1"/>
<path d="M628.1,431.4 C628.6,431.9 630.4,433.3 631.1,434.7 C631.9,436.1 632.4,437.9 632.6,439.7 C632.8,441.4 632.4,444.3 632.4,445.2"/>
<path d="M631.9,429.5 C632.4,430.1 634.1,431.4 634.9,432.8 C635.6,434.2 636.2,436.1 636.4,437.8 C636.6,439.6 636.2,442.4 636.2,443.3"/>
<path d="M612.3,439.8 C613.2,439.8 616.3,439 617.6,439.8 C618.9,440.6 619.4,442.7 619.9,444.4 C620.4,446.1 621,448.3 620.7,449.8 C620.5,451.3 618.8,453 618.4,453.6"/>
<ellipse cx="645.2" cy="446.7" rx="3.3" ry="2.4" transform="rotate(-30 645.2 446.7)"/>
<path d="M643.5,448.5 L646.8,444.8"/>
<path d="M556.9,479.1 C555.2,479.9 549.6,483.1 547,484 C544.4,484.9 543.4,484.8 541.3,484.8 C539.1,484.8 536.7,482.9 534.1,484 C531.5,485.1 527.3,490 525.9,491.2" stroke="#000" stroke-width="4.6"/><path d="M556.9,479.1 C555.2,479.9 549.6,483.1 547,484 C544.4,484.9 543.4,484.8 541.3,484.8 C539.1,484.8 536.7,482.9 534.1,484 C531.5,485.1 527.3,490 525.9,491.2" stroke="#fff" stroke-width="2.6"/>
<path d="M555,481.2 C553.7,482.1 549,484.3 547,486.9 C545,489.5 543.9,494 542.7,496.9 C541.5,499.8 541.6,502 539.8,504 C538,506 534.3,507.4 532,509 C529.7,510.6 526.9,512.6 525.9,513.3" stroke="#000" stroke-width="4.6"/><path d="M555,481.2 C553.7,482.1 549,484.3 547,486.9 C545,489.5 543.9,494 542.7,496.9 C541.5,499.8 541.6,502 539.8,504 C538,506 534.3,507.4 532,509 C529.7,510.6 526.9,512.6 525.9,513.3" stroke="#fff" stroke-width="2.6"/>
<path d="M555,481.2 C554.6,482.2 552.1,483.7 552.6,487.5 C553.1,491.3 557.1,499.8 558.3,504 C559.5,508.2 560.2,510.4 559.7,512.5 C559.2,514.6 556.4,515.3 555,516.5 C553.6,517.7 552.1,519.2 551.5,519.7" stroke="#000" stroke-width="4.6"/><path d="M555,481.2 C554.6,482.2 552.1,483.7 552.6,487.5 C553.1,491.3 557.1,499.8 558.3,504 C559.5,508.2 560.2,510.4 559.7,512.5 C559.2,514.6 556.4,515.3 555,516.5 C553.6,517.7 552.1,519.2 551.5,519.7" stroke="#fff" stroke-width="2.6"/>
<g transform="translate(507.8,499.7) rotate(-25) scale(1.12)"><path d="M10,-2.3 L0.5,-2.3 C-0.8,-2.3 -0.8,2.3 0.5,2.3 L10,2.3 Z M10,-2.3 C10.5,-4.6 13,-5.2 16,-4.8 L18.5,-4.3 L18.5,4.3 L12.5,4.6 C11,4.6 10.3,3.6 10,2.3" fill="#fff" stroke-width="0.9"/></g>
<g transform="translate(507.8,521.8) rotate(-25) scale(1.12)"><path d="M10,-2.3 L0.5,-2.3 C-0.8,-2.3 -0.8,2.3 0.5,2.3 L10,2.3 Z M10,-2.3 C10.5,-4.6 13,-5.2 16,-4.8 L18.5,-4.3 L18.5,4.3 L12.5,4.6 C11,4.6 10.3,3.6 10,2.3" fill="#fff" stroke-width="0.9"/></g>
<g transform="translate(533.4,528.2) rotate(-25) scale(1.12)"><path d="M10,-2.3 L0.5,-2.3 C-0.8,-2.3 -0.8,2.3 0.5,2.3 L10,2.3 Z M10,-2.3 C10.5,-4.6 13,-5.2 16,-4.8 L18.5,-4.3 L18.5,4.3 L12.5,4.6 C11,4.6 10.3,3.6 10,2.3" fill="#fff" stroke-width="0.9"/></g>
<ellipse cx="559.7" cy="479.1" rx="2.5" ry="4.2" transform="rotate(-28 559.7 479.1)"/>
<g stroke-width="1.15">
<path d="M384.4,377 C385.2,376.6 387.8,374.8 389.3,374.4 C390.8,374 392.2,374.2 393.6,374.8 C395.1,375.4 396.7,376.4 398,377.9 C399.3,379.4 400.6,381.7 401.5,383.6 C402.4,385.5 403.4,387.5 403.7,389.3 C404,391.1 403.7,393.3 403.3,394.5 C402.9,395.7 402.7,395.4 401.5,396.3 C400.3,397.2 397.2,399.2 396.3,399.8"/>
<path d="M390.1,380.5 L395.8,377.9 M396.3,391.4 L403.3,389.3"/>
<path d="M373.5,387.5 C373.6,385.8 373.4,382.2 374.4,380.5 C375.4,378.8 377.9,377.6 379.6,377 C381.3,376.4 382.6,376.4 384.4,377 C386.1,377.6 388.4,378.8 390.1,380.5 C391.8,382.2 393.5,385.4 394.5,387.5 C395.5,389.6 396.1,391.1 396.3,393.2 C396.5,395.2 396.9,397.7 395.8,399.8 C394.7,401.9 391.8,405.1 389.7,405.9 C387.6,406.7 385.2,405.9 383.1,404.6 C381,403.4 378.6,400.7 377,398.4 C375.4,396.1 374.1,392.8 373.5,391 C372.9,389.2 373.4,389.2 373.5,387.5Z"/>
<path d="M378.3,385.3 C378.7,384.4 379.5,384 380.9,384.4 C382.3,384.8 385.2,386 386.6,387.5 C388,389 388.9,391.9 389.3,393.6 C389.7,395.4 389.4,397.1 388.8,398 C388.2,398.9 387.1,399.7 385.8,399.3 C384.5,398.9 382.1,397 380.9,395.4 C379.6,393.8 378.7,391.4 378.3,389.7 C377.9,388 377.9,386.2 378.3,385.3Z"/>
<path d="M382.3,385.3 L384.4,391.9 388.8,395.8 M384.4,391.9 L378,394.8"/>
<path d="M423,595.2 C423.8,594.8 426.4,593 427.9,592.6 C429.4,592.2 430.8,592.4 432.2,593 C433.7,593.6 435.3,594.6 436.6,596.1 C437.9,597.6 439.2,599.9 440.1,601.8 C441.1,603.7 442,605.7 442.3,607.5 C442.6,609.3 442.3,611.5 441.9,612.7 C441.5,613.9 441.3,613.6 440.1,614.5 C438.9,615.4 435.8,617.4 434.9,618"/>
<path d="M428.7,598.7 L434.4,596.1 M434.9,609.6 L441.9,607.5"/>
<path d="M412.1,605.7 C412.2,604 412,600.5 413,598.7 C414,597 416.5,595.8 418.2,595.2 C419.9,594.6 421.2,594.6 423,595.2 C424.8,595.8 427,597 428.7,598.7 C430.4,600.5 432.1,603.6 433.1,605.7 C434.1,607.8 434.7,609.4 434.9,611.4 C435.1,613.4 435.5,615.9 434.4,618 C433.3,620.1 430.4,623.3 428.3,624.1 C426.2,624.9 423.8,624 421.7,622.8 C419.6,621.5 417.2,618.9 415.6,616.6 C414,614.3 412.7,611 412.1,609.2 C411.5,607.4 412,607.5 412.1,605.7Z"/>
<path d="M416.9,603.5 C417.3,602.6 418.1,602.2 419.5,602.6 C420.9,603 423.8,604.2 425.2,605.7 C426.6,607.2 427.5,610 427.9,611.8 C428.3,613.5 428,615.2 427.4,616.2 C426.8,617.2 425.7,617.9 424.4,617.5 C423.1,617.1 420.8,615.2 419.5,613.6 C418.2,612 417.3,609.6 416.9,607.9 C416.5,606.2 416.5,604.4 416.9,603.5Z"/>
<path d="M420.9,603.5 L423,610.1 427.4,614 M423,610.1 L416.6,613"/>
<path d="M434.3,538 C434.7,536.9 435.5,536.9 436.5,535.8 C437.5,534.7 438.6,532.9 440.3,531.4 C442,529.9 444.9,527.4 446.9,526.8 C448.9,526.2 450.6,527 452.4,527.9 C454.2,528.8 456,530 457.8,532 C459.6,534 462.2,537.3 463.3,539.6 C464.4,541.9 464.2,543.8 464.4,545.6 C464.6,547.4 465.1,549.1 464.4,550.6 C463.7,552.1 461.6,553.5 460,554.4 C458.4,555.3 456.4,555.4 454.5,556 C452.6,556.6 450.5,558.1 448.5,558.2 C446.5,558.3 444.3,557.4 442.5,556.6 C440.7,555.8 438.9,554.6 437.6,553.3 C436.3,552 435.4,550.7 434.8,548.9 C434.2,547.1 434.1,544.2 434,542.4 C433.9,540.6 433.9,539.1 434.3,538Z"/>
<path d="M437,535.8 L445.2,538 450.7,547.8 449.1,557.7 440.9,555.5 435.9,545.6Z"/>
<ellipse cx="442" cy="547.3" rx="5.3" ry="7.3" transform="rotate(-25 442 547.3)"/>
<ellipse cx="443.6" cy="547" rx="3.2" ry="6" transform="rotate(-25 443.6 547)"/>
<path d="M445.2,538 L453.4,533.6 M450.7,547.8 L459.5,544.5 M449.1,557.7 L456.2,553.3"/>
<path d="M440.5,530.5 L446,528.5"/>
<path d="M466.9,761.2 C467.3,760.1 468.1,760.1 469.1,759 C470.1,757.9 471.2,756.1 472.9,754.6 C474.6,753.1 477.5,750.6 479.5,750 C481.5,749.4 483.2,750.2 485,751.1 C486.8,752 488.6,753.2 490.4,755.2 C492.2,757.2 494.8,760.5 495.9,762.8 C497,765.1 496.8,767 497,768.8 C497.2,770.6 497.7,772.3 497,773.8 C496.3,775.3 494.2,776.7 492.6,777.6 C491,778.5 489,778.6 487.1,779.2 C485.2,779.8 483.1,781.3 481.1,781.4 C479.1,781.5 476.9,780.6 475.1,779.8 C473.3,779 471.5,777.8 470.2,776.5 C468.9,775.2 468,773.9 467.4,772.1 C466.8,770.3 466.7,767.4 466.6,765.6 C466.5,763.8 466.5,762.3 466.9,761.2Z"/>
<path d="M469.6,759 L477.8,761.2 483.3,771 481.7,780.9 473.5,778.7 468.5,768.8Z"/>
<ellipse cx="474.6" cy="770.5" rx="5.3" ry="7.3" transform="rotate(-25 474.6 770.5)"/>
<ellipse cx="476.2" cy="770.2" rx="3.2" ry="6" transform="rotate(-25 476.2 770.2)"/>
<path d="M477.8,761.2 L486,756.8 M483.3,771 L492.1,767.7 M481.7,780.9 L488.8,776.5"/>
<path d="M473.1,753.7 L478.6,751.7"/>
</g>
<path d="M94.4,489.9 C91.1,489.9 81.8,488.2 74.6,489.9 C67.4,491.6 58,494 51.1,499.9 C44.2,505.8 37.8,516.4 33.1,525.1 C28.4,533.8 24.3,544.1 23.1,552.2 C21.9,560.3 23.5,567.3 25.8,573.9 C28.1,580.5 31.6,586.8 36.7,591.9 C41.8,597 49.6,601.7 56.5,604.6 C63.4,607.5 74.6,608.4 78.2,609.1"/>
<path d="M92,492.3 C89.2,492.3 81.5,490.6 75,492.3 C68.5,494 59.5,496.7 53,502.5 C46.5,508.3 40.3,518.7 36,527 C31.7,535.3 28.2,544.5 27.2,552.2 C26.2,559.9 27.7,566.7 29.8,573 C31.9,579.3 35.3,585.2 40,590 C44.7,594.8 55,600 58,602"/>
<path d="M92,494 C89.3,494 82.2,492.4 76,494.2 C69.8,496 61.2,499.2 55,505 C48.8,510.8 42.6,521.1 38.5,529 C34.4,536.9 31.2,545 30.2,552.2 C29.2,559.4 30.3,566 32.3,572 C34.3,578 37.4,583.3 42,588 C46.6,592.7 57,598 60,600"/>
<path d="M112.5,501.7 C110.4,501.6 104.7,500.2 99.9,500.8 C95.1,501.4 89,502.5 83.6,505.3 C78.2,508.1 72.2,512.5 67.4,517.9 C62.6,523.3 58,530.6 54.7,537.8 C51.4,545 48.5,554 47.5,561.2 C46.5,568.4 46.9,575.1 48.4,581.1 C49.9,587.1 53,593.2 56.5,597.4 C60,601.6 65.3,604.5 69.2,606.4 C73.1,608.2 75.5,608.8 80,608.5 C84.5,608.2 90.8,606.8 96.2,604.6 C101.6,602.4 107.4,598.8 112.5,595.5 C117.6,592.2 122.1,588.9 126.9,584.7 C131.7,580.5 136.6,575.6 141.4,570.3 C146.2,565 153.4,556 155.8,553.1"/>
<path d="M94.4,489.9 C95.3,490.2 96.9,490 99.9,491.7 C102.9,493.4 108.6,497 112.5,499.9 C116.4,502.8 121.5,507.4 123.3,508.9"/>
<path d="M123.3,509.8 C122.7,510.6 120.5,511.7 119.7,514.3 C119,516.8 118.5,520.9 118.8,525.1 C119.1,529.3 121,537.2 121.5,539.6"/>
<path d="M124.5,511 L139.6,503.5"/>
<path d="M139.6,503.5 C141.7,503.5 148,501.7 152.2,503.5 C156.4,505.3 161.5,511 164.8,514.3 C168.1,517.6 170.7,520 172.1,523.3 C173.5,526.6 173.3,530.9 173,534.2 C172.7,537.5 170.8,541.7 170.3,543.2"/>
<path d="M155.8,553.1 L170.3,545"/>
<path d="M141.4,520.6 C142.9,522 148.2,525.8 150.4,528.7 C152.7,531.6 154.2,533.9 154.9,537.8 C155.7,541.7 154.9,549.8 154.9,552.2"/>
<path d="M157,505.5 C158.5,506.8 163.9,510.2 166,513 C168.1,515.8 168.8,519.2 169.5,522 C170.2,524.8 170.2,526.3 170,530 C169.8,533.7 168.8,541.7 168.5,544"/>
<path d="M152.2,503.5 L196,480.7 M172.1,534.2 L217.8,506.9"/>
<path d="M132.4,547.7 L170.3,523.3"/>
<path d="M101.7,579.3 C102.3,576.6 102.9,567.5 105.3,563 C107.7,558.5 111.9,554.6 116.1,552.2 C120.3,549.8 128.1,549.2 130.5,548.6"/>
<path d="M103.5,588.3 C104.1,588.8 105.5,590.6 107,591.5 C108.5,592.4 111.6,593.3 112.5,593.7"/>
<path d="M193.6,482 C193.6,480.8 193.5,476.3 193.6,474.5 C193.7,472.7 192.8,472.6 194,471.2 C195.2,469.8 198.1,467.1 200.9,466.3 C203.7,465.5 207.5,465.5 210.8,466.3 C214.1,467.1 217.8,469.6 220.6,471.2 C223.4,472.8 225.2,473.8 227.5,476.1 C229.8,478.4 232.6,481.7 234.4,485 C236.2,488.3 237.7,492 238.4,495.8 C239.1,499.6 239.1,504.7 238.4,507.6 C237.7,510.6 236.2,512.2 234.4,513.5 C232.6,514.8 229.8,515.3 227.5,515.5 C225.2,515.7 222.2,515.1 220.6,514.5 C219,513.9 218.2,512.1 217.7,511.6" fill="#fff"/>
<path d="M195,472.2 C196.5,471.8 200.6,469.7 203.9,469.7 C207.2,469.7 211.3,470.8 214.7,472.2 C218.2,473.6 222,475.6 224.6,478.1 C227.2,480.6 229,483.9 230.5,487 C232,490.1 233.1,493.4 233.4,496.8 C233.7,500.2 232.9,505 232.4,507.6 C231.9,510.2 230.8,511.8 230.5,512.6"/>
<path d="M199,476.1 C201,476.3 207.2,476 210.8,477.1 C214.4,478.2 218,480.5 220.6,483 C223.2,485.5 225,488.8 226.5,491.9 C228,495 229.2,498.4 229.5,501.7 C229.8,505 228.7,510 228.5,511.6"/>
<path d="M195,480.1 C196.7,480.3 201.8,480 204.9,481.1 C208,482.2 211.3,484.6 213.7,487 C216.2,489.4 218.4,492.7 219.6,495.8 C220.8,498.9 220.4,503.1 220.6,505.7 C220.8,508.3 221.1,510.6 220.6,511.6 C220.1,512.6 218.2,511.6 217.7,511.6"/>
<path d="M227.5,475.1 C228.3,474.7 230.8,472.7 232.4,472.7 C234.1,472.7 236.2,473.9 237.4,475.1 C238.6,476.3 239,478.5 239.3,480.1 C239.6,481.8 239.3,484.2 239.3,485" fill="#fff"/>
<path d="M236,476 C236.8,475.2 238.9,473.8 241,471.5 C243.1,469.2 245.4,464.1 248.5,462 C251.6,459.9 255.8,459.7 259.5,459 C263.2,458.3 266.9,459.2 270.5,457.7 C274.1,456.2 278.2,451.9 281.3,450 C284.4,448.1 287.1,446.8 289,446 C290.9,445.2 292.3,445.2 293,445" stroke="#000" stroke-width="8.6"/><path d="M236,476 C236.8,475.2 238.9,473.8 241,471.5 C243.1,469.2 245.4,464.1 248.5,462 C251.6,459.9 255.8,459.7 259.5,459 C263.2,458.3 266.9,459.2 270.5,457.7 C274.1,456.2 278.2,451.9 281.3,450 C284.4,448.1 287.1,446.8 289,446 C290.9,445.2 292.3,445.2 293,445" stroke="#fff" stroke-width="6.6"/>
<path d="M293,444 C292.5,441.7 290.5,434.8 290,430 C289.5,425.2 289.3,418.6 290,415 C290.7,411.4 293.4,409.7 294.4,408.4 C295.4,407.1 295.7,407.3 296,407.1" stroke="#000" stroke-width="4.6"/><path d="M293,444 C292.5,441.7 290.5,434.8 290,430 C289.5,425.2 289.3,418.6 290,415 C290.7,411.4 293.4,409.7 294.4,408.4 C295.4,407.1 295.7,407.3 296,407.1" stroke="#fff" stroke-width="2.6"/>
<path d="M294.4,443.5 C295.9,442 301,438.7 303.2,434.7 C305.4,430.7 305,423.1 307.5,419.4 C310,415.7 315.2,414.1 318,412.6 C320.8,411.1 323.4,410.7 324.5,410.4" stroke="#000" stroke-width="4.6"/><path d="M294.4,443.5 C295.9,442 301,438.7 303.2,434.7 C305.4,430.7 305,423.1 307.5,419.4 C310,415.7 315.2,414.1 318,412.6 C320.8,411.1 323.4,410.7 324.5,410.4" stroke="#fff" stroke-width="2.6"/>
<path d="M294.4,443.5 C295.9,442.8 300.3,440.2 303.2,439.1 C306.1,438 309.5,437.6 312,436.9 C314.5,436.2 315.9,435.6 318,435 C320.1,434.4 323.4,433.6 324.5,433.4" stroke="#000" stroke-width="4.6"/><path d="M294.4,443.5 C295.9,442.8 300.3,440.2 303.2,439.1 C306.1,438 309.5,437.6 312,436.9 C314.5,436.2 315.9,435.6 318,435 C320.1,434.4 323.4,433.6 324.5,433.4" stroke="#fff" stroke-width="2.6"/>
<g transform="translate(314.1,398.6) rotate(155) scale(1.12)"><path d="M10,-2.3 L0.5,-2.3 C-0.8,-2.3 -0.8,2.3 0.5,2.3 L10,2.3 Z M10,-2.3 C10.5,-4.6 13,-5.2 16,-4.8 L18.5,-4.3 L18.5,4.3 L12.5,4.6 C11,4.6 10.3,3.6 10,2.3" fill="#fff" stroke-width="0.9"/></g>
<g transform="translate(342.6,401.9) rotate(155) scale(1.12)"><path d="M10,-2.3 L0.5,-2.3 C-0.8,-2.3 -0.8,2.3 0.5,2.3 L10,2.3 Z M10,-2.3 C10.5,-4.6 13,-5.2 16,-4.8 L18.5,-4.3 L18.5,4.3 L12.5,4.6 C11,4.6 10.3,3.6 10,2.3" fill="#fff" stroke-width="0.9"/></g>
<g transform="translate(342.6,424.9) rotate(155) scale(1.12)"><path d="M10,-2.3 L0.5,-2.3 C-0.8,-2.3 -0.8,2.3 0.5,2.3 L10,2.3 Z M10,-2.3 C10.5,-4.6 13,-5.2 16,-4.8 L18.5,-4.3 L18.5,4.3 L12.5,4.6 C11,4.6 10.3,3.6 10,2.3" fill="#fff" stroke-width="0.9"/></g>
<path d="M83.2,783.4 C83.7,780.7 84.1,772.7 85.9,767 C87.7,761.3 90.7,754 94.1,749.2 C97.5,744.4 102.2,741.3 106.5,738.2 C110.8,735.1 115.1,732.4 120.1,730.7 C125.1,729 131.2,728.5 136.5,728 C141.8,727.5 148.2,728 151.6,728 C155,728 156.2,728 157.1,728"/>
<path d="M83.2,783.4 C83.3,786.1 82.8,794.3 83.9,799.8 C85,805.3 87.4,811.4 90,816.2 C92.6,821 96.2,824.9 99.6,828.5 C103,832.1 108.8,836.5 110.6,838.1"/>
<path d="M157.7,727.9 C158.8,727.2 162.3,724.6 164.6,723.5 C166.9,722.4 168.7,721.4 171.5,721.5 C174.3,721.6 178.5,722.7 181.4,724 C184.3,725.3 186.8,727.4 189.2,729.4 C191.6,731.4 194.3,734 196.1,736.3 C197.9,738.6 199.2,740.9 200.1,743.2 C201,745.5 201.3,747.5 201.5,750.1 C201.7,752.7 201.4,756.8 201,758.9 C200.6,761 200.7,761.4 199.1,762.9 C197.5,764.4 192.5,767 191.2,767.8"/>
<path d="M169.5,723.5 C171.3,724 177.3,725.1 180.4,726.4 C183.5,727.7 185.8,729.4 188.2,731.4 C190.6,733.4 193.4,735.9 195.1,738.2 C196.8,740.5 197.4,742.6 198.1,745.1 C198.8,747.6 198.9,751.7 199.1,753"/>
<path d="M158.7,731.4 C160.2,732.2 164.8,734.8 167.6,736.3 C170.4,737.8 172.9,738.4 175.4,740.2 C177.9,742 180.5,744.8 182.3,747.1 C184.1,749.4 185.3,751.4 186.3,754 C187.3,756.6 188,760.4 188.2,762.9 C188.4,765.4 187.5,767.8 187.3,768.8"/>
<path d="M181.4,724 L222.7,699.8 M201.5,753 L246.3,729.1"/>
<ellipse cx="137.5" cy="785.1" rx="61.7" ry="44.7" transform="rotate(-59.7 137.5 785.1)" fill="#fff"/>
<ellipse cx="143.9" cy="787.8" rx="30.4" ry="54.1" transform="rotate(31.6 143.9 787.8)"/>
<ellipse cx="142.5" cy="787.8" rx="31.8" ry="55.6" transform="rotate(31.6 142.5 787.8)"/>
<path d="M131.9,755 C131.6,756 131.1,758.8 129.9,761 C128.8,763.2 126.8,765.7 125,768 C123.2,770.3 120.8,772.3 119,775 C117.2,777.7 115.3,781 114,784 C112.7,787 111.5,791.4 111,792.9"/>
<path d="M146.9,747 L165.9,756 M147.9,756 L161.9,763"/>
<ellipse cx="143.4" cy="752" rx="3.6" ry="4" transform="rotate(20 143.4 752)"/>
<ellipse cx="143.6" cy="752.2" rx="1.7" ry="2" transform="rotate(20 143.6 752.2)"/>
<path d="M145.9,758 C146.1,759.2 145.9,762.7 146.9,765 C147.9,767.3 149.7,770.3 151.9,772 C154.1,773.7 158.2,775.3 159.9,775 C161.6,774.7 161.6,770.8 161.9,770"/>
<path d="M168.9,758 L168.9,765 171.9,765 171.9,777 168.9,777 168.9,785 M157.9,775 L157.9,782 168.9,785 M171.9,760 L171.9,790"/>
<path d="M133.9,771.4 C133.5,771.8 131.8,772.6 131.6,773.5 C131.4,774.4 132.7,776.3 132.9,776.9 M133.9,771.4 L163.9,786.9 M132.9,776.9 L159.9,791.9"/>
<ellipse cx="162.9" cy="789.9" rx="3.4" ry="3.8" transform="rotate(20 162.9 789.9)"/>
<ellipse cx="163.1" cy="790" rx="1.6" ry="1.9" transform="rotate(20 163.1 790)"/>
<path d="M146.9,790.9 C146.8,791.2 145.8,792 146,792.5 C146.2,793 147.6,793.7 147.9,793.9 M146.9,790.9 L169.9,802.9 M147.9,793.9 L168.9,804.9"/>
<path d="M116,804.9 C115.6,805.3 113.7,806.5 113.5,807.5 C113.3,808.5 114.8,810.2 115,810.8 M116,804.9 L144.9,820.8 M115,810.8 L138.9,827.8"/>
<ellipse cx="142.9" cy="826.3" rx="3.8" ry="4.3" transform="rotate(20 142.9 826.3)"/>
<ellipse cx="143.1" cy="826.4" rx="1.8" ry="2.1" transform="rotate(20 143.1 826.4)"/>
<path d="M143.9,818.8 C145.2,817.3 149.6,813 151.9,809.9 C154.2,806.8 156.9,801.6 157.9,799.9"/>
<path d="M110,824.8 L119,831.8"/>
<path d="M155.2,741.8 L156.4,741.5 157.5,741.3 158.7,741.2 159.8,741.1 160.9,741.1 162,741.2 163,741.3 164.1,741.4 165.1,741.6 166,741.9 167,742.2 167.9,742.6 168.8,743 169.6,743.5 170.5,744.1 171.3,744.6 172,745.3 172.7,746 173.4,746.7 174,747.6 174.6,748.4 175.2,749.3 175.7,750.2 176.2,751.2 176.7,752.3 177.1,753.3 177.4,754.5 177.7,755.6 178,756.8 178.2,758.1 178.4,759.3 178.6,760.7 178.7,762 178.7,763.4 178.7,764.8 178.7,766.2 178.6,767.7 178.5,769.1 178.3,770.7 178.1,772.2 177.8,773.7 177.5,775.3 177.2,776.9 176.8,778.5 176.4,780.1 175.9,781.7 175.4,783.3 174.9,784.9 174.3,786.5 173.7,788.2 173,789.8 172.3,791.4 171.6,793 170.8,794.7 170,796.3 169.1,797.9 168.3,799.5 167.4,801 166.4,802.6 166.4,802.6 165.5,804.1 164.5,805.6 163.4,807.1 162.4,808.6 161.3,810 160.2,811.5"/>
<path d="M158.1,743.1 L159.2,743 160.2,743.1 161.2,743.1 162.2,743.3 163.1,743.5 164,743.7 164.9,744 165.8,744.4 166.6,744.8 167.4,745.2 168.2,745.7 168.9,746.3 169.6,746.9 170.3,747.6 170.9,748.3 171.5,749 172.1,749.8 172.6,750.7 173.1,751.6 173.5,752.5 173.9,753.5 174.3,754.5 174.6,755.6 174.9,756.7 175.1,757.8 175.3,759 175.5,760.2 175.6,761.5 175.7,762.8 175.7,764.1 175.7,765.4 175.7,766.8 175.6,768.2 175.4,769.6 175.3,771 175,772.5 174.8,774 174.5,775.5 174.2,777 173.8,778.5 173.4,780 172.9,781.6 172.4,783.1 171.9,784.7 171.3,786.2 170.7,787.8 170,789.4 169.4,790.9 168.6,792.5 167.9,794 167.1,795.6 166.3,797.1 165.5,798.6 164.6,800.1 163.7,801.6 163.7,801.6 162.8,803.1 161.8,804.6 160.8,806 159.8,807.4"/>
<path d="M222.2,699.5 C222.2,698.2 222.1,693.8 222.2,692 C222.3,690.2 221.4,690.1 222.6,688.7 C223.8,687.3 226.7,684.6 229.5,683.8 C232.3,683 236.1,683 239.4,683.8 C242.7,684.6 246.4,687.1 249.2,688.7 C252,690.3 253.8,691.3 256.1,693.6 C258.4,695.9 261.2,699.2 263,702.5 C264.8,705.8 266.3,709.5 267,713.3 C267.7,717.1 267.7,722.1 267,725.1 C266.3,728.1 264.8,729.7 263,731 C261.2,732.3 258.4,732.8 256.1,733 C253.8,733.2 250.8,732.6 249.2,732 C247.6,731.4 246.8,729.6 246.3,729.1" fill="#fff"/>
<path d="M223.6,689.7 C225.1,689.3 229.2,687.2 232.5,687.2 C235.8,687.2 239.9,688.3 243.3,689.7 C246.8,691.1 250.6,693.1 253.2,695.6 C255.8,698.1 257.6,701.4 259.1,704.5 C260.6,707.6 261.7,710.9 262,714.3 C262.3,717.7 261.5,722.5 261,725.1 C260.5,727.7 259.4,729.3 259.1,730.1"/>
<path d="M227.6,693.6 C229.6,693.8 235.8,693.5 239.4,694.6 C243,695.8 246.6,698 249.2,700.5 C251.8,703 253.6,706.3 255.1,709.4 C256.6,712.5 257.8,715.9 258.1,719.2 C258.4,722.5 257.3,727.5 257.1,729.1"/>
<path d="M223.6,697.6 C225.2,697.8 230.4,697.5 233.5,698.6 C236.6,699.8 239.9,702 242.3,704.5 C244.8,707 247,710.2 248.2,713.3 C249.3,716.4 249,720.6 249.2,723.2 C249.4,725.8 249.7,728.1 249.2,729.1 C248.7,730.1 246.8,729.1 246.3,729.1"/>
<path d="M256.1,692.6 C256.9,692.2 259.4,690.2 261,690.2 C262.6,690.2 264.9,691.4 266,692.6 C267.1,693.8 267.6,696 267.9,697.6 C268.2,699.2 267.9,701.7 267.9,702.5" fill="#fff"/>
<path d="M264.5,696 C265.4,695.1 268.1,692.8 270,690.5 C271.9,688.2 273,684.2 276,682 C279,679.8 283.8,678.4 288,677.4 C292.2,676.4 296.8,677.6 301,676 C305.2,674.4 309.6,670.2 313,668 C316.4,665.8 320.1,663.8 321.5,663" stroke="#000" stroke-width="9"/><path d="M264.5,696 C265.4,695.1 268.1,692.8 270,690.5 C271.9,688.2 273,684.2 276,682 C279,679.8 283.8,678.4 288,677.4 C292.2,676.4 296.8,677.6 301,676 C305.2,674.4 309.6,670.2 313,668 C316.4,665.8 320.1,663.8 321.5,663" stroke="#fff" stroke-width="7"/>
<path d="M322,663 C323.9,661.4 331.3,656.9 333.7,653.3 C336.1,649.7 334.5,644.5 336.1,641.3 C337.7,638.1 340.5,635.9 343.3,634.1 C346.1,632.3 351.3,631.1 352.9,630.5" stroke="#000" stroke-width="4.6"/><path d="M322,663 C323.9,661.4 331.3,656.9 333.7,653.3 C336.1,649.7 334.5,644.5 336.1,641.3 C337.7,638.1 340.5,635.9 343.3,634.1 C346.1,632.3 351.3,631.1 352.9,630.5" stroke="#fff" stroke-width="2.6"/>
<path d="M322,663 C324.4,662 332.2,657.7 336.1,656.9 C340.1,656.1 342.9,658.7 345.7,658.1 C348.5,657.5 351.7,654.1 352.9,653.4" stroke="#000" stroke-width="4.6"/><path d="M322,663 C324.4,662 332.2,657.7 336.1,656.9 C340.1,656.1 342.9,658.7 345.7,658.1 C348.5,657.5 351.7,654.1 352.9,653.4" stroke="#fff" stroke-width="2.6"/>
<g transform="translate(371,622) rotate(155) scale(1.12)"><path d="M10,-2.3 L0.5,-2.3 C-0.8,-2.3 -0.8,2.3 0.5,2.3 L10,2.3 Z M10,-2.3 C10.5,-4.6 13,-5.2 16,-4.8 L18.5,-4.3 L18.5,4.3 L12.5,4.6 C11,4.6 10.3,3.6 10,2.3" fill="#fff" stroke-width="0.9"/></g>
<g transform="translate(371,644.9) rotate(155) scale(1.12)"><path d="M10,-2.3 L0.5,-2.3 C-0.8,-2.3 -0.8,2.3 0.5,2.3 L10,2.3 Z M10,-2.3 C10.5,-4.6 13,-5.2 16,-4.8 L18.5,-4.3 L18.5,4.3 L12.5,4.6 C11,4.6 10.3,3.6 10,2.3" fill="#fff" stroke-width="0.9"/></g>
<path d="M736.4,587.4 C738.6,584.7 745.7,575.6 749.5,571 C753.3,566.4 755.3,563.3 759.4,559.5 C763.5,555.7 769,551.3 774.2,548 C779.4,544.7 784.3,541.7 790.6,539.8 C796.9,537.9 806.2,536.5 811.9,536.5 C817.6,536.5 820.6,538.2 825,539.8 C829.4,541.4 833.8,543.6 838.2,546.3 C842.6,549 847.8,552.9 851.3,556.2 C854.8,559.5 857.5,562.4 859.5,566 C861.5,569.6 862.4,576 863,578"/>
<path d="M762.7,636.6 C764.9,638 770.1,641.8 775.8,644.8 C781.5,647.8 791.1,652.7 797.1,654.7 C803.1,656.7 809.5,656.6 812,657"/>
<path d="M855.3,620.4 C854.7,621.5 852.8,625 851.5,627.2 C850.1,629.3 848.5,631.5 847,633.4 C845.4,635.4 843.7,637.3 841.9,639 C840.2,640.7 838.4,642.3 836.5,643.8 C834.7,645.2 832.7,646.5 830.8,647.6 C828.9,648.7 826.9,649.6 825,650.4 C823.1,651.1 821.1,651.7 819.2,652 C817.3,652.4 815.4,652.6 813.5,652.6 C811.7,652.5 809.9,652.3 808.2,651.9 C806.5,651.5 804.8,650.9 803.2,650.2 C801.7,649.4 800.2,648.4 798.8,647.3 C797.5,646.2 796.2,644.8 795.1,643.4 C794,641.9 793,640.3 792.1,638.5 C791.3,636.8 790.5,634.9 790,632.9 C789.4,630.9 789,628.8 788.7,626.6 C788.4,624.4 788.3,622.1 788.3,619.7 C788.3,617.4 788.5,615 788.8,612.5 C789.2,610.1 789.7,607.6 790.3,605.2 C790.9,602.7 791.7,600.2 792.6,597.8 C793.5,595.4 794.5,593 795.7,590.6 C796.9,588.3 798.2,586 799.5,583.8 C800.9,581.7 802.5,579.5 804,577.6 C805.6,575.6 807.3,573.7 809.1,572 C810.8,570.3 812.6,568.7 814.5,567.2 C816.3,565.8 818.3,564.5 820.2,563.4 C822.1,562.3 824.1,561.4 826,560.6 C827.9,559.9 829.9,559.3 831.8,559 C833.7,558.6 835.6,558.4 837.5,558.4 C839.3,558.5 841.1,558.7 842.8,559.1 C844.5,559.5 846.2,560.1 847.8,560.8 C849.3,561.6 850.8,562.6 852.2,563.7 C853.5,564.8 854.8,566.2 855.9,567.6 C857,569.1 858,570.7 858.9,572.5 C859.7,574.2 860.5,576.1 861,578.1 C861.6,580.1 862,582.2 862.3,584.4 C862.6,586.6 862.7,588.9 862.7,591.3 C862.7,593.6 862.5,596 862.2,598.5 C861.8,600.9 861.3,603.4 860.7,605.8 C860.1,608.3 859.3,610.8 858.4,613.2 C857.5,615.6 855.8,619.2 855.3,620.4 C854.8,621.6 855.9,619.2 855.3,620.4Z"/>
<path d="M803.4,651.4 C802.6,651.1 799.8,650.4 798.1,649.7 C796.4,648.9 794.8,647.9 793.3,646.8 C791.9,645.6 790.5,644.3 789.2,642.8 C788,641.4 786.8,639.7 785.9,637.9 C784.9,636.1 784,634.2 783.3,632.1 C782.6,630.1 782.1,627.9 781.7,625.6 C781.3,623.4 781,621 780.9,618.5 C780.9,616.1 780.9,613.6 781.2,611.1 C781.4,608.5 781.8,605.9 782.3,603.3 C782.9,600.8 783.6,598.1 784.4,595.6 C785.2,593 786.2,590.4 787.3,587.9 C788.4,585.4 789.7,582.9 791.1,580.6 C792.4,578.2 793.9,575.9 795.5,573.7 C797.1,571.5 798.8,569.4 800.5,567.5 C802.3,565.5 804.2,563.7 806.1,562 C808,560.3 810,558.8 812,557.5 C814,556.1 816,554.9 818.1,553.9 C820.1,552.9 822.2,552.1 824.3,551.5 C826.3,550.9 828.4,550.4 830.4,550.2 C832.4,550 834.4,549.9 836.3,550.1 C838.2,550.3 840.1,550.6 841.9,551.2 C843.7,551.7 845.4,552.5 847,553.4 C848.6,554.4 850.1,555.5 851.5,556.8 C852.9,558.1 854.7,560.4 855.3,561.2"/>
<path d="M795.2,650.4 C794.4,649.9 791.7,648.9 790.1,647.9 C788.4,646.9 786.9,645.7 785.4,644.4 C784,643.1 782.7,641.5 781.5,639.9 C780.3,638.3 779.3,636.5 778.3,634.5 C777.4,632.6 776.6,630.5 776,628.4 C775.4,626.2 774.9,624 774.5,621.6 C774.2,619.3 774,616.8 774,614.3 C773.9,611.8 774,609.3 774.3,606.7 C774.6,604.1 775,601.5 775.6,598.9 C776.2,596.3 776.9,593.6 777.7,591.1 C778.6,588.5 779.6,585.9 780.7,583.4 C781.9,580.9 783.1,578.4 784.5,576 C785.9,573.6 787.4,571.3 789,569.1 C790.6,566.9 792.3,564.8 794,562.8 C795.8,560.8 797.7,558.9 799.6,557.2 C801.5,555.5 803.5,553.9 805.5,552.5 C807.6,551.1 809.7,549.9 811.7,548.8 C813.8,547.7 816,546.8 818.1,546.1 C820.2,545.4 822.3,544.8 824.4,544.5 C826.4,544.2 828.5,544 830.5,544 C832.5,544.1 834.5,544.3 836.4,544.7 C838.3,545.1 840.2,545.7 841.9,546.5 C843.6,547.3 845.3,548.2 846.9,549.4 C848.4,550.5 850.5,552.6 851.2,553.3"/>
<path d="M828.3,592.3 C829.9,591.8 835.3,588.2 838.2,589 C841.1,589.8 844.5,593.4 845.6,597.2 C846.7,601 846.5,607.4 844.7,612 C842.9,616.6 838.7,622.2 834.9,625.1 C831.1,628 825.1,630 821.8,629.2 C818.5,628.4 816.3,623.1 815.2,620.2 C814.1,617.3 815.2,613.4 815.2,612"/>
<path d="M823.4,566 C823.8,565.7 824.9,564.2 826,564.4 C827.1,564.6 829.5,565.6 830,567 C830.5,568.4 829.9,571.8 829,573 C828.1,574.2 825.4,574.7 824.5,574.2 C823.6,573.7 823.6,570.7 823.4,570"True/>
<path d="M823.4,642 C823.8,641.6 824.9,639.9 826,639.9 C827.1,639.9 829.5,640.7 830,642 C830.5,643.3 829.9,646.5 829,647.5 C828.1,648.5 825.4,648.5 824.5,648.1 C823.6,647.7 823.6,645.5 823.4,645"True/>
<path d="M768,576.3 C768.1,577.4 769.4,579.1 768.9,582.7 C768.4,586.3 766,593.9 765.3,598.1 C764.6,602.3 765,606.4 764.9,608.1"/>
<path d="M771.7,571.8 C772.2,571 773.6,569 775,567 C776.4,565 779,561.2 779.8,560"/>
<path d="M712.7,600.8 L711.9,608.6 715.4,608.2"/>
<path d="M713.6,599.9 L733.7,588.5"/>
<path d="M733.7,588.5 C734.9,588.6 737.6,587.9 740.7,588.9 C743.8,589.9 748.7,592.3 752.1,594.6 C755.5,596.9 759.4,601.2 760.9,602.5"/>
<path d="M763.5,606 C763.9,606.9 765.5,609 766.1,611.3 C766.7,613.6 767,617.2 767,620 C767,622.8 766.5,626 766.1,627.9 C765.7,629.8 764.7,630.8 764.4,631.4"/>
<path d="M764.4,631.4 L748.6,640.1"/>
<path d="M748.6,640.1 C747.7,640.4 745.4,642 743.4,641.9 C741.4,641.8 737.9,640.3 736.4,639.7 C734.9,639.1 734.6,638.6 734.2,638.4"/>
<path d="M716.2,598.1 C717.7,598.1 721.9,597.4 725,598.1 C728.1,598.8 731.5,600.6 734.6,602.5 C737.7,604.4 740.9,607 743.4,609.5 C745.9,612 748,614.6 749.5,617.4 C751,620.2 751.7,623 752.1,626.1 C752.5,629.2 752.1,634.2 752.1,635.8"/>
<path d="M717.1,599.9 C718.9,600 724.2,599.8 727.6,600.8 C731,601.8 734.3,604 737.2,606 C740.1,608 743.2,610.4 745.1,613 C747,615.6 748,618.3 748.6,621.8 C749.2,625.3 748.8,631.1 748.6,634 C748.5,636.9 747.9,638.4 747.7,639.3"/>
<path d="M718.9,605.1 C719.9,605 722.7,604.1 725,604.7 C727.3,605.3 730.6,606.9 732.9,608.6 C735.2,610.3 737.4,612.5 739,614.8 C740.6,617.1 741.8,620.3 742.5,622.6 C743.2,624.9 743.5,626.9 743.4,628.8 C743.2,630.7 742.3,632.8 741.6,634 C740.9,635.2 739.4,635.5 739,635.8"/>
<path d="M672.9,632.3 L715.4,608.2 M692.8,661.4 L739,635.8"/>
<path d="M650,667 C649.2,667 647.3,666.5 645,667 C642.7,667.5 638.8,668 636,669.8 C633.2,671.6 630.6,674.3 628,678 C625.4,681.7 624.4,688.8 620.6,692 C616.9,695.2 609.8,695.7 605.5,697 C601.2,698.3 596.8,699.5 595,700" stroke="#000" stroke-width="9.2"/><path d="M650,667 C649.2,667 647.3,666.5 645,667 C642.7,667.5 638.8,668 636,669.8 C633.2,671.6 630.6,674.3 628,678 C625.4,681.7 624.4,688.8 620.6,692 C616.9,695.2 609.8,695.7 605.5,697 C601.2,698.3 596.8,699.5 595,700" stroke="#fff" stroke-width="7.2"/>

<path d="M650.3,633 C651.6,631.5 654.1,630.8 656.4,630.3 C658.7,629.8 661.4,629.8 664.1,630.3 C666.8,630.8 670,632 672.5,633.4 C675,634.8 677.2,636.7 679.4,638.4 C681.6,640.1 683.7,641.8 685.5,643.7 C687.3,645.6 689,647.9 690.1,649.9 C691.2,651.9 691.9,653.8 692.4,656 C692.9,658.2 693.1,660.6 693.2,662.9 C693.3,665.2 693.5,667.8 693.2,669.8 C693,671.8 692.5,673.7 691.7,675.1 C690.9,676.5 689.8,677.4 688.6,678.2 C687.5,679 685.8,679.2 684.8,679.7 C683.8,680.2 684,681.2 682.5,681.3 C681,681.4 678,681.3 675.6,680.5 C673.2,679.7 670.5,678.2 667.9,676.7 C665.3,675.2 662.6,673.1 660.3,671.3 C658,669.5 655.9,668.2 654.1,666 C652.3,663.8 650.7,661.1 649.6,658.3 C648.5,655.5 647.8,652.3 647.6,649.1 C647.4,645.9 648,641.8 648.4,639.1 C648.8,636.4 649,634.5 650.3,633Z" fill="#fff"/>
<path d="M648.8,636.1 C649.7,635.6 652.6,633.4 654.1,633 C655.6,632.6 656.1,633.2 658,633.8 C659.9,634.4 663.1,635.4 665.6,636.8 C668.1,638.2 670.9,640.2 673.3,642.2 C675.7,644.2 678.3,646.8 680.2,649.1 C682.1,651.4 683.6,653.7 684.8,656 C685.9,658.3 686.6,660.5 687.1,662.9 C687.6,665.3 687.9,667.8 687.8,670.5 C687.7,673.2 686.8,677.5 686.3,679 C685.8,680.5 685,679.6 684.8,679.7"/>
<path d="M654.1,656 C655.5,655.1 660.4,651.6 662.6,650.6 C664.8,649.6 665.8,649.6 667.2,649.9 C668.6,650.2 670,651.1 671,652.2 C672,653.4 672.6,655.1 672.9,656.8 C673.1,658.4 673.2,660.6 672.5,662.1 C671.8,663.6 670.7,664.6 668.7,666 C666.7,667.4 662.6,669.5 660.3,670.5 C658,671.5 655.9,671.8 655,672" fill="#fff"/>
<path d="M655.5,655.2 C656,655.8 657.8,657.1 658.5,658.5 C659.2,659.9 659.8,661.8 660,663.5 C660.2,665.2 659.8,668.1 659.8,669"/>
<path d="M659.3,653.3 C659.8,653.8 661.5,655.2 662.3,656.6 C663,658 663.6,659.9 663.8,661.6 C664,663.4 663.6,666.2 663.6,667.1"/>
<path d="M663.1,651.4 C663.6,652 665.4,653.3 666.1,654.7 C666.9,656.1 667.4,658 667.6,659.7 C667.8,661.5 667.4,664.3 667.4,665.2"/>
<path d="M666.9,649.5 C667.4,650 669.1,651.4 669.9,652.8 C670.6,654.2 671.2,656 671.4,657.8 C671.6,659.5 671.2,662.4 671.2,663.3"/>
<path d="M647.3,659.8 C648.2,659.8 651.3,659 652.6,659.8 C653.9,660.6 654.4,662.7 654.9,664.4 C655.4,666.1 656,668.3 655.7,669.8 C655.5,671.3 653.8,673 653.4,673.6"/>
<ellipse cx="650.3" cy="649.5" rx="2.6" ry="3.2" transform="rotate(-20 650.3 649.5)" fill="#fff"/>
<ellipse cx="651.5" cy="648.8" rx="2.4" ry="3" transform="rotate(-20 651.5 648.8)"/>
<path d="M594,699.4 C591.3,700.5 582.1,704.6 577.8,705.7 C573.5,706.8 570.6,705.3 568,706 C565.4,706.7 562.9,709.2 561.9,709.8" stroke="#000" stroke-width="4.6"/><path d="M594,699.4 C591.3,700.5 582.1,704.6 577.8,705.7 C573.5,706.8 570.6,705.3 568,706 C565.4,706.7 562.9,709.2 561.9,709.8" stroke="#fff" stroke-width="2.6"/>
<path d="M594,699.4 C592.1,700.5 585.5,702.1 582.8,705.7 C580.1,709.3 579.9,717 577.8,720.8 C575.7,724.6 572.6,726.6 570,728.5 C567.4,730.4 563.3,731.8 561.9,732.4" stroke="#000" stroke-width="4.6"/><path d="M594,699.4 C592.1,700.5 585.5,702.1 582.8,705.7 C580.1,709.3 579.9,717 577.8,720.8 C575.7,724.6 572.6,726.6 570,728.5 C567.4,730.4 563.3,731.8 561.9,732.4" stroke="#fff" stroke-width="2.6"/>
<g transform="translate(543.8,718.3) rotate(-25) scale(1.12)"><path d="M10,-2.3 L0.5,-2.3 C-0.8,-2.3 -0.8,2.3 0.5,2.3 L10,2.3 Z M10,-2.3 C10.5,-4.6 13,-5.2 16,-4.8 L18.5,-4.3 L18.5,4.3 L12.5,4.6 C11,4.6 10.3,3.6 10,2.3" fill="#fff" stroke-width="0.9"/></g>
<g transform="translate(543.8,740.9) rotate(-25) scale(1.12)"><path d="M10,-2.3 L0.5,-2.3 C-0.8,-2.3 -0.8,2.3 0.5,2.3 L10,2.3 Z M10,-2.3 C10.5,-4.6 13,-5.2 16,-4.8 L18.5,-4.3 L18.5,4.3 L12.5,4.6 C11,4.6 10.3,3.6 10,2.3" fill="#fff" stroke-width="0.9"/></g>
<ellipse cx="595.5" cy="700.3" rx="2.6" ry="4.4" transform="rotate(-28 595.5 700.3)"/>
<path d="M192.4,801.6 C192.4,801.4 192.1,800.6 192.4,800.2 C192.7,799.9 191.4,798.5 194.4,799.5 C197.4,800.5 206.4,804.2 210.7,806.3 C215,808.3 218.5,810.3 220.3,811.8 C222.1,813.3 221.4,814.6 221.6,815.2"/>
<path d="M192.4,801.6 L210.7,812.4"/>
<path d="M210.7,815.9 L210.7,845.8 M221.6,815.2 L221.6,846.5 217,848"/>
<path d="M214.1,828.8 L216.9,828.8 216.9,839.7 214.1,839.7Z"/>
<path d="M192.4,829.5 C192.4,829.1 192.1,827.8 192.4,827.4 C192.7,827 190.9,826 194,827 C197.1,828 207.9,832.4 210.7,833.5"/>
<path d="M192.4,829.5 L210.7,843.1"/>
<ellipse cx="211.4" cy="819.3" rx="3.4" ry="3.8" transform="rotate(20 211.4 819.3)"/>
<ellipse cx="211.6" cy="819.5" rx="1.6" ry="2" transform="rotate(20 211.6 819.5)"/>
<ellipse cx="210.7" cy="852.2" rx="3.8" ry="4.2" transform="rotate(20 210.7 852.2)"/>
<ellipse cx="211" cy="852.2" rx="1.8" ry="2.2" transform="rotate(20 211 852.2)"/>
<g stroke-width="1.2">
<path d="M193.7,930 L176.7,921.3 176,921.3 178.8,924 193.7,934.2"/>
<path d="M180.5,922.2 q1.6,-0.6 0.6,4.2"/>
<path d="M183.8,923.9 q1.6,-0.6 0.6,4.2"/>
<path d="M187.1,925.6 q1.6,-0.6 0.6,4.2"/>
<path d="M190.4,927.3 q1.6,-0.6 0.6,4.2"/>
<ellipse cx="197.8" cy="933.5" rx="4.4" ry="4.8" transform="rotate(20 197.8 933.5)"/>
<path d="M196,934.5 l3,-1 M197.5,932 l0.5,3.5"/>
</g>
<path d="M288.1,836.9 C286.3,837.5 281.2,838.6 277.2,840.7 C273.2,842.8 267.2,846.3 264.1,849.4 C261,852.5 260,855.6 258.7,859.2 C257.4,862.8 256.9,866.8 256.5,871.1 C256.1,875.5 255.9,880.8 256.5,885.3 C257.1,889.8 258.5,894.3 259.8,898.3 C261.1,902.3 262.8,907 264.1,909.2 C265.4,911.4 266.3,911.6 267.4,911.4 C268.5,911.2 269.2,907.4 270.7,908.1 C272.1,908.8 274.1,914.3 276.1,915.8 C278.1,917.2 280.8,917.2 282.6,916.8 C284.4,916.4 286.6,915.4 287,913.6 C287.4,911.8 286.2,908.5 284.8,906 C283.4,903.5 279.8,899.6 278.8,898.3"/>
<path d="M279.9,839 C277.6,840.7 269.5,845.7 266.3,849.4 C263.1,853.1 262.3,856.8 260.9,861.3 C259.4,865.8 257.8,871.7 257.6,876.6 C257.4,881.5 259.2,887.1 259.8,890.7 C260.4,894.3 260.7,897 260.9,898.3"/>
<path d="M288.1,836.9 L299.5,827.6 310.9,827.6 312,830.9 320.7,832 321.8,835.2 310.4,843.4"/>
<path d="M280.5,845 L310.9,861.3 M288,837 L296.8,837.4 313.1,848.3 M280.5,845 L288,837"/>
<path d="M313.1,850.5 L313.1,861.3 326.2,853.7 326.2,844.5 324,845.5 324,850 321,851.7 318.7,849.8 318.5,846.5"/>
<path d="M313.1,850.5 L318.5,847.5"/>
<path d="M285.9,848.3 L285.9,862.4"/>
<path d="M267.4,870 L285.9,862.4"/>
<path d="M285.9,862.4 C288.2,863 294.2,864.4 300,866 C305.8,867.6 316.7,870.4 320.7,872.2 C324.7,874 324.7,875.2 324,876.6 C323.3,878 317.8,879.1 316.4,880.9 C314.9,882.7 316.2,884.6 315.3,887.5 C314.4,890.4 311.6,896.5 310.9,898.3"/>
<path d="M269.6,873.3 L292.4,867.3"/>
<path d="M267.4,870 C267,869.3 265.2,868.5 265,866 C264.8,863.5 265.8,856.8 266,855"/>
<path d="M278.3,898.3 L312,916.8 325.1,909.8 M293.5,890.7 L325.1,909.2"/>
<path d="M312,916.8 L312,928.8 315,927 315,921 318,919.5 321,921 321,925 325.1,922.3 325.1,909.5"/>
<path d="M278.3,896.2 C279.4,895.7 283,894.1 285,893 C287,891.9 289.4,890.2 290.3,889.6"/>
<path d="M375,890.2 C373,890.4 366.8,890.9 362.9,891.6 C359,892.3 354.9,892.7 351.7,894.4 C348.4,896.1 345.2,898.9 343.4,901.9 C341.5,904.9 340.8,908.9 340.6,912.1 C340.4,915.4 341,918.6 342.4,921.4 C343.8,924.2 346.4,927.1 349,928.8 C351.6,930.5 355.4,931.4 358.3,931.6 C361.2,931.8 364,930.9 366.6,929.8 C369.2,928.7 371.9,927 374.1,925.1 C376.3,923.2 377.7,921 379.7,918.6 C381.7,916.2 385.1,912 386.2,910.7"/>
<path d="M375,890.2 L390.8,880.5"/>
<path d="M390.8,880.5 C391.7,880.4 394.5,879.4 396.4,880 C398.3,880.6 400.4,882.4 402,884.2 C403.6,886 405.5,888.5 406.2,890.7 C406.9,892.9 406.4,895.8 406.2,897.2 C406,898.6 405,898.8 404.8,899.1"/>
<path d="M386.6,910.7 L404.8,899.1"/>
<path d="M375,890.2 C376.1,890.9 379.8,892.6 381.5,894.4 C383.2,896.2 384.3,898.4 385.2,900.9 C386.1,903.4 386.8,907.9 387.1,909.3"/>
<path d="M351.7,911.2 L361,916.3 371.3,909.3 362.9,904.7Z"/>
<path d="M362.9,904.7 L374.1,898.1 M373.1,910.2 L383.8,904.2"/>
<ellipse cx="393.1" cy="882.3" rx="1.3" ry="1.6" transform="rotate(0 393.1 882.3)"/>
<ellipse cx="426" cy="949.3" rx="56.6" ry="31.9" transform="rotate(-57.9 426 949.3)"/>
<ellipse cx="425.8" cy="949.6" rx="51.5" ry="27.3" transform="rotate(-57.5 425.8 949.6)"/>
<ellipse cx="505.6" cy="996.4" rx="42.2" ry="59.1" transform="rotate(30 505.6 996.4)" fill="#fff"/>
<path d="M495,1050.8 C494.1,1050.7 491.3,1050.6 489.6,1050.3 C487.8,1049.9 486.1,1049.4 484.5,1048.8 C482.9,1048.2 481.3,1047.4 479.9,1046.4 C478.4,1045.5 477,1044.4 475.8,1043.2 C474.5,1041.9 473.3,1040.6 472.2,1039.1 C471.2,1037.6 470.2,1036 469.3,1034.3 C468.5,1032.6 467.8,1030.7 467.2,1028.8 C466.6,1026.9 466.1,1024.9 465.7,1022.8 C465.4,1020.7 465.1,1018.5 465,1016.3 C465,1014.1 465,1011.8 465.2,1009.5 C465.3,1007.2 465.6,1004.9 466,1002.5 C466.5,1000.2 467,997.8 467.7,995.4 C468.3,993.1 469.1,990.7 470,988.4 C471,986.1 472,983.8 473.1,981.5 C474.2,979.3 475.5,977.1 476.8,974.9 C478.1,972.8 479.6,970.7 481.1,968.8 C482.6,966.8 484.2,964.9 485.8,963.1 C487.5,961.3 489.2,959.6 491,958.1 C492.8,956.5 494.6,955 496.5,953.7 C498.3,952.4 500.3,951.2 502.2,950.2 C504.1,949.2 506,948.2 508,947.5 C509.9,946.8 511.9,946.2 513.8,945.7 C515.7,945.3 517.7,945 519.5,944.9 C521.4,944.7 523.3,944.8 525.1,944.9 C526.9,945.1 528.6,945.5 530.3,946 C532,946.5 533.6,947.1 535.2,947.9 C536.7,948.7 538.2,949.7 539.5,950.8 C540.9,951.9 542.2,953.1 543.4,954.5 C544.5,955.8 545.6,957.3 546.6,958.9 C547.5,960.5 548.7,963.2 549.1,964.1"/>
<path d="M496.4,1049.6 C495.6,1049.4 493.3,1049.2 491.8,1048.8 C490.3,1048.4 488.9,1047.8 487.6,1047.1 C486.2,1046.5 484.9,1045.6 483.7,1044.7 C482.5,1043.8 481.4,1042.7 480.3,1041.6 C479.3,1040.4 478.3,1039.1 477.4,1037.7 C476.6,1036.3 475.8,1034.8 475.1,1033.2 C474.4,1031.6 473.9,1029.9 473.4,1028.2 C472.9,1026.4 472.5,1024.6 472.3,1022.6 C472,1020.7 471.9,1018.8 471.8,1016.7 C471.8,1014.7 471.9,1012.6 472.1,1010.5 C472.2,1008.5 472.5,1006.3 472.9,1004.2 C473.3,1002 473.8,999.9 474.4,997.7 C475,995.6 475.7,993.4 476.5,991.3 C477.3,989.1 478.2,987 479.2,984.9 C480.2,982.9 481.3,980.8 482.4,978.9 C483.6,976.9 484.8,975 486.1,973.1 C487.4,971.3 488.8,969.5 490.2,967.8 C491.7,966.1 493.2,964.5 494.7,963 C496.2,961.5 497.8,960.1 499.5,958.8 C501.1,957.5 502.7,956.3 504.4,955.2 C506.1,954.1 507.8,953.2 509.5,952.3 C511.2,951.5 512.9,950.8 514.6,950.3 C516.3,949.7 518,949.3 519.7,949 C521.3,948.7 523,948.5 524.6,948.5 C526.2,948.5 527.8,948.6 529.3,948.9 C530.9,949.2 532.3,949.6 533.8,950.1 C535.2,950.6 536.6,951.3 537.8,952.1 C539.1,952.9 540.4,953.8 541.5,954.8 C542.6,955.9 543.7,957 544.7,958.3 C545.6,959.6 546.9,961.8 547.3,962.5"/>
<ellipse cx="515.4" cy="1000.6" rx="31.6" ry="50.6" transform="rotate(25.9 515.4 1000.6)"/>
<path d="M515.9,986.5 C517.5,985.9 522.8,982 525.7,982.6 C528.7,983.2 532.5,986.1 533.6,990.4 C534.8,994.7 534.6,1003.3 532.6,1008.2 C530.6,1013.1 525.9,1017.4 521.8,1020 C517.7,1022.6 511.1,1024.6 508,1023.9 C504.9,1023.2 503.9,1019 503.1,1016 C502.3,1013 503.1,1007.8 503.1,1006.2"/>
<path d="M512,960 C512.4,959.6 513.4,957.7 514.5,957.9 C515.6,958.1 518.2,959.4 518.8,961 C519.4,962.6 519.2,966 518.3,967.5 C517.4,969 514.5,970.2 513.5,969.8 C512.5,969.4 512.2,965.8 512,965"True/>
<path d="M511.5,1037 C512.1,1036.6 513.8,1034.6 515,1034.7 C516.2,1034.8 518.3,1036.4 518.8,1037.5 C519.3,1038.6 518.9,1040.7 518,1041.5 C517.1,1042.3 514.6,1042.8 513.5,1042.6 C512.4,1042.3 511.6,1040.4 511.2,1040"True/>
<path d="M517.8,966.8 L571.7,996.7"/>
<g stroke-width="1.25">
<ellipse cx="582.1" cy="1002.6" rx="5.2" ry="6.6" transform="rotate(20 582.1 1002.6)"/>
<ellipse cx="582.6" cy="1002.9" rx="2.2" ry="3" transform="rotate(20 582.6 1002.9)"/>
<path d="M600.3,1010.5 L594.4,1009 598.3,1016.4"/>
<path d="M600.3,1010.5 L620,1021.4 M598.3,1016.4 L618,1026.3"/>
<path d="M603,1011.2 q1.8,1.4 0.5,5.4"/>
<path d="M606.6,1013.2 q1.8,1.4 0.5,5.4"/>
<path d="M610.2,1015.2 q1.8,1.4 0.5,5.4"/>
<path d="M613.8,1017.2 q1.8,1.4 0.5,5.4"/>
<ellipse cx="624.4" cy="1026.8" rx="5.3" ry="6" transform="rotate(20 624.4 1026.8)"/>
<path d="M622.5,1028 l4,-1.8 M624.2,1025.5 l0.6,4.5"/>
</g>
</g>
<g><text class="s" x="817.5" y="10.7">F2730</text><text class="l" x="135" y="132">23037</text><text class="l" x="336.6" y="45.3">92075</text><text class="l" x="286.3" y="141.7">92009</text><text class="l" x="357.2" y="273">23048</text><text class="l" x="420.6" y="310.2">11009</text><text class="la" x="478.5" y="319.5">92069A</text><text class="l" x="48.6" y="439.8">23037</text><text class="l" x="357.6" y="464.6">92015</text><text class="l" x="427" y="480">92015</text><text class="l" x="396.9" y="678.9">92015</text><text class="l" x="461.5" y="700.2">92015</text><text class="la" x="722" y="711">23037A</text><text class="l" x="349" y="841.8">92069</text><text class="l" x="404.4" y="851.8">11009</text><text class="l" x="482.4" y="892">23048</text><text class="l" x="555.4" y="946">92075</text><text class="l" x="598.2" y="971">92009</text><text class="la" x="721.5" y="1020">23037A</text></g>
</svg>
</body></html>
